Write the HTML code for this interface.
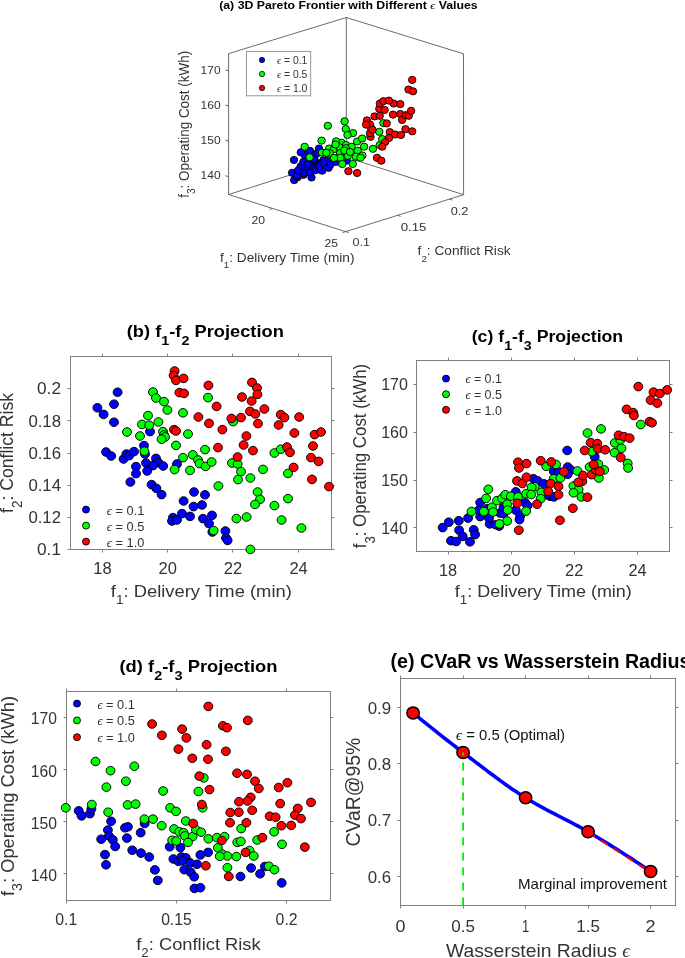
<!DOCTYPE html><html><head><meta charset="utf-8"><style>html,body{margin:0;padding:0;background:#fff;}svg{display:block;will-change:transform;}</style></head><body><svg width="685" height="958" viewBox="0 0 685 958" font-family="'Liberation Sans', sans-serif">
<rect width="685" height="958" fill="#fff"/>
<line x1="228.60" y1="53.60" x2="346.30" y2="17.50" stroke="#5a5a5a" stroke-width="0.9" />
<line x1="346.30" y1="17.50" x2="463.50" y2="53.80" stroke="#5a5a5a" stroke-width="0.9" />
<line x1="228.60" y1="53.60" x2="228.60" y2="194.50" stroke="#5a5a5a" stroke-width="0.9" />
<line x1="463.50" y1="53.80" x2="463.60" y2="194.70" stroke="#5a5a5a" stroke-width="0.9" />
<line x1="228.60" y1="194.50" x2="345.60" y2="231.60" stroke="#5a5a5a" stroke-width="0.9" />
<line x1="345.60" y1="231.60" x2="463.60" y2="194.70" stroke="#5a5a5a" stroke-width="0.9" />
<line x1="228.60" y1="194.50" x2="346.30" y2="157.30" stroke="#5a5a5a" stroke-width="0.9" />
<line x1="463.60" y1="194.70" x2="346.30" y2="157.30" stroke="#5a5a5a" stroke-width="0.9" />
<line x1="346.30" y1="17.50" x2="346.30" y2="157.30" stroke="#5a5a5a" stroke-width="0.9" />
<line x1="228.60" y1="176.70" x2="225.40" y2="175.70" stroke="#5a5a5a" stroke-width="0.9" />
<text x="220.60" y="179.40" font-size="11.0" text-anchor="end" textLength="20.0" lengthAdjust="spacingAndGlyphs" fill="#333333" >140</text>
<line x1="228.60" y1="141.10" x2="225.40" y2="140.10" stroke="#5a5a5a" stroke-width="0.9" />
<text x="220.60" y="143.80" font-size="11.0" text-anchor="end" textLength="20.0" lengthAdjust="spacingAndGlyphs" fill="#333333" >150</text>
<line x1="228.60" y1="106.00" x2="225.40" y2="105.00" stroke="#5a5a5a" stroke-width="0.9" />
<text x="220.60" y="108.70" font-size="11.0" text-anchor="end" textLength="20.0" lengthAdjust="spacingAndGlyphs" fill="#333333" >160</text>
<line x1="228.60" y1="70.90" x2="225.40" y2="69.90" stroke="#5a5a5a" stroke-width="0.9" />
<text x="220.60" y="73.60" font-size="11.0" text-anchor="end" textLength="20.0" lengthAdjust="spacingAndGlyphs" fill="#333333" >170</text>
<line x1="272.59" y1="208.45" x2="269.39" y2="209.45" stroke="#5a5a5a" stroke-width="0.9" />
<line x1="345.60" y1="231.60" x2="342.40" y2="232.60" stroke="#5a5a5a" stroke-width="0.9" />
<text x="258.30" y="223.90" font-size="11.0" text-anchor="middle" textLength="13.6" lengthAdjust="spacingAndGlyphs" fill="#333333" >20</text>
<text x="331.30" y="246.50" font-size="11.0" text-anchor="middle" textLength="13.6" lengthAdjust="spacingAndGlyphs" fill="#333333" >25</text>
<line x1="345.60" y1="231.60" x2="348.70" y2="232.60" stroke="#5a5a5a" stroke-width="0.9" />
<line x1="397.52" y1="215.36" x2="400.62" y2="216.36" stroke="#5a5a5a" stroke-width="0.9" />
<line x1="449.44" y1="199.13" x2="452.54" y2="200.13" stroke="#5a5a5a" stroke-width="0.9" />
<text x="361.20" y="246.20" font-size="11.0" text-anchor="middle" textLength="17.4" lengthAdjust="spacingAndGlyphs" fill="#333333" >0.1</text>
<text x="413.60" y="231.00" font-size="11.0" text-anchor="middle" textLength="25.8" lengthAdjust="spacingAndGlyphs" fill="#333333" >0.15</text>
<text x="459.60" y="215.40" font-size="11.0" text-anchor="middle" textLength="17.8" lengthAdjust="spacingAndGlyphs" fill="#333333" >0.2</text>
<text x="220.00" y="262.00" font-size="12.6" text-anchor="start" textLength="134.5" lengthAdjust="spacingAndGlyphs" fill="#333333" >f<tspan font-size="9" dy="6.2">1</tspan><tspan dy="-6.2">: Delivery Time (min)</tspan></text>
<text x="417.60" y="255.40" font-size="12.6" text-anchor="start" textLength="93.0" lengthAdjust="spacingAndGlyphs" fill="#333333" >f<tspan font-size="9" dy="6.2">2</tspan><tspan dy="-6.2">: Conflict Risk</tspan></text>
<text x="0" y="0" font-size="12.6" text-anchor="start" textLength="147.0" lengthAdjust="spacingAndGlyphs" transform="translate(188.60 197.80) scale(1.15 1) rotate(-90)" fill="#333333" >f<tspan font-size="9.5" dy="5.2">3</tspan><tspan dy="-5.2">: Operating Cost (kWh)</tspan></text>
<text x="219.20" y="9.20" font-size="10.2" text-anchor="start" font-weight="bold" textLength="258.5" lengthAdjust="spacingAndGlyphs" fill="#000" >(a) 3D Pareto Frontier with Different <tspan font-family="Liberation Serif" font-weight="normal" font-style="italic">&#x3f5;</tspan> Values</text>
<ellipse cx="294.0" cy="160.0" rx="3.73" ry="3.6" fill="#0000ff" stroke="#000" stroke-width="0.9"/>
<ellipse cx="292.1" cy="172.8" rx="3.73" ry="3.6" fill="#0000ff" stroke="#000" stroke-width="0.9"/>
<ellipse cx="294.2" cy="180.1" rx="3.73" ry="3.6" fill="#0000ff" stroke="#000" stroke-width="0.9"/>
<ellipse cx="297.7" cy="177.2" rx="3.73" ry="3.6" fill="#0000ff" stroke="#000" stroke-width="0.9"/>
<ellipse cx="303.5" cy="174.8" rx="3.73" ry="3.6" fill="#0000ff" stroke="#000" stroke-width="0.9"/>
<ellipse cx="311.5" cy="177.5" rx="3.73" ry="3.6" fill="#0000ff" stroke="#000" stroke-width="0.9"/>
<ellipse cx="300.6" cy="167.2" rx="3.73" ry="3.6" fill="#0000ff" stroke="#000" stroke-width="0.9"/>
<ellipse cx="306.5" cy="168.4" rx="3.73" ry="3.6" fill="#0000ff" stroke="#000" stroke-width="0.9"/>
<ellipse cx="313.5" cy="167.2" rx="3.73" ry="3.6" fill="#0000ff" stroke="#000" stroke-width="0.9"/>
<ellipse cx="316.4" cy="168.4" rx="3.73" ry="3.6" fill="#0000ff" stroke="#000" stroke-width="0.9"/>
<ellipse cx="322.2" cy="170.7" rx="3.73" ry="3.6" fill="#0000ff" stroke="#000" stroke-width="0.9"/>
<ellipse cx="328.6" cy="167.8" rx="3.73" ry="3.6" fill="#0000ff" stroke="#000" stroke-width="0.9"/>
<ellipse cx="302.4" cy="152.0" rx="3.73" ry="3.6" fill="#0000ff" stroke="#000" stroke-width="0.9"/>
<ellipse cx="310.0" cy="150.9" rx="3.73" ry="3.6" fill="#0000ff" stroke="#000" stroke-width="0.9"/>
<ellipse cx="304.7" cy="155.0" rx="3.73" ry="3.6" fill="#0000ff" stroke="#000" stroke-width="0.9"/>
<ellipse cx="315.2" cy="155.0" rx="3.73" ry="3.6" fill="#0000ff" stroke="#000" stroke-width="0.9"/>
<ellipse cx="307.0" cy="160.2" rx="3.73" ry="3.6" fill="#0000ff" stroke="#000" stroke-width="0.9"/>
<ellipse cx="315.2" cy="161.4" rx="3.73" ry="3.6" fill="#0000ff" stroke="#000" stroke-width="0.9"/>
<ellipse cx="319.9" cy="163.7" rx="3.73" ry="3.6" fill="#0000ff" stroke="#000" stroke-width="0.9"/>
<ellipse cx="323.4" cy="160.2" rx="3.73" ry="3.6" fill="#0000ff" stroke="#000" stroke-width="0.9"/>
<ellipse cx="326.9" cy="161.4" rx="3.73" ry="3.6" fill="#0000ff" stroke="#000" stroke-width="0.9"/>
<ellipse cx="319.0" cy="148.5" rx="3.73" ry="3.6" fill="#0000ff" stroke="#000" stroke-width="0.9"/>
<ellipse cx="335.7" cy="162.0" rx="3.73" ry="3.6" fill="#0000ff" stroke="#000" stroke-width="0.9"/>
<ellipse cx="346.6" cy="160.7" rx="3.73" ry="3.6" fill="#0000ff" stroke="#000" stroke-width="0.9"/>
<ellipse cx="300.8" cy="152.3" rx="3.73" ry="3.6" fill="#0000ff" stroke="#000" stroke-width="0.9"/>
<ellipse cx="313.9" cy="159.3" rx="3.73" ry="3.6" fill="#0000ff" stroke="#000" stroke-width="0.9"/>
<ellipse cx="308.6" cy="162.8" rx="3.73" ry="3.6" fill="#0000ff" stroke="#000" stroke-width="0.9"/>
<ellipse cx="300.8" cy="166.3" rx="3.73" ry="3.6" fill="#0000ff" stroke="#000" stroke-width="0.9"/>
<ellipse cx="315.6" cy="170.2" rx="3.73" ry="3.6" fill="#0000ff" stroke="#000" stroke-width="0.9"/>
<ellipse cx="319.6" cy="166.3" rx="3.73" ry="3.6" fill="#0000ff" stroke="#000" stroke-width="0.9"/>
<ellipse cx="323.5" cy="162.8" rx="3.73" ry="3.6" fill="#0000ff" stroke="#000" stroke-width="0.9"/>
<ellipse cx="303.4" cy="161.9" rx="3.73" ry="3.6" fill="#0000ff" stroke="#000" stroke-width="0.9"/>
<ellipse cx="317.4" cy="153.1" rx="3.73" ry="3.6" fill="#0000ff" stroke="#000" stroke-width="0.9"/>
<ellipse cx="303.8" cy="173.3" rx="3.73" ry="3.6" fill="#0000ff" stroke="#000" stroke-width="0.9"/>
<ellipse cx="297.3" cy="175.5" rx="3.73" ry="3.6" fill="#0000ff" stroke="#000" stroke-width="0.9"/>
<ellipse cx="307.8" cy="164.5" rx="3.73" ry="3.6" fill="#0000ff" stroke="#000" stroke-width="0.9"/>
<ellipse cx="298.0" cy="170.5" rx="3.73" ry="3.6" fill="#0000ff" stroke="#000" stroke-width="0.9"/>
<ellipse cx="310.0" cy="172.5" rx="3.73" ry="3.6" fill="#0000ff" stroke="#000" stroke-width="0.9"/>
<ellipse cx="330.5" cy="164.5" rx="3.73" ry="3.6" fill="#0000ff" stroke="#000" stroke-width="0.9"/>
<ellipse cx="304.7" cy="146.8" rx="3.73" ry="3.6" fill="#00ff00" stroke="#000" stroke-width="0.9"/>
<ellipse cx="309.6" cy="157.3" rx="3.73" ry="3.6" fill="#00ff00" stroke="#000" stroke-width="0.9"/>
<ellipse cx="322.0" cy="152.6" rx="3.73" ry="3.6" fill="#00ff00" stroke="#000" stroke-width="0.9"/>
<ellipse cx="321.6" cy="140.6" rx="3.73" ry="3.6" fill="#00ff00" stroke="#000" stroke-width="0.9"/>
<ellipse cx="327.8" cy="125.8" rx="3.73" ry="3.6" fill="#00ff00" stroke="#000" stroke-width="0.9"/>
<ellipse cx="329.0" cy="154.4" rx="3.73" ry="3.6" fill="#00ff00" stroke="#000" stroke-width="0.9"/>
<ellipse cx="329.2" cy="148.5" rx="3.73" ry="3.6" fill="#00ff00" stroke="#000" stroke-width="0.9"/>
<ellipse cx="333.9" cy="149.1" rx="3.73" ry="3.6" fill="#00ff00" stroke="#000" stroke-width="0.9"/>
<ellipse cx="336.2" cy="142.7" rx="3.73" ry="3.6" fill="#00ff00" stroke="#000" stroke-width="0.9"/>
<ellipse cx="341.5" cy="142.7" rx="3.73" ry="3.6" fill="#00ff00" stroke="#000" stroke-width="0.9"/>
<ellipse cx="339.7" cy="147.4" rx="3.73" ry="3.6" fill="#00ff00" stroke="#000" stroke-width="0.9"/>
<ellipse cx="339.7" cy="155.5" rx="3.73" ry="3.6" fill="#00ff00" stroke="#000" stroke-width="0.9"/>
<ellipse cx="342.1" cy="156.7" rx="3.73" ry="3.6" fill="#00ff00" stroke="#000" stroke-width="0.9"/>
<ellipse cx="342.1" cy="163.7" rx="3.73" ry="3.6" fill="#00ff00" stroke="#000" stroke-width="0.9"/>
<ellipse cx="344.6" cy="121.3" rx="3.73" ry="3.6" fill="#00ff00" stroke="#000" stroke-width="0.9"/>
<ellipse cx="345.8" cy="129.0" rx="3.73" ry="3.6" fill="#00ff00" stroke="#000" stroke-width="0.9"/>
<ellipse cx="353.0" cy="133.1" rx="3.73" ry="3.6" fill="#00ff00" stroke="#000" stroke-width="0.9"/>
<ellipse cx="347.5" cy="135.0" rx="3.73" ry="3.6" fill="#00ff00" stroke="#000" stroke-width="0.9"/>
<ellipse cx="346.0" cy="145.0" rx="3.73" ry="3.6" fill="#00ff00" stroke="#000" stroke-width="0.9"/>
<ellipse cx="340.2" cy="153.1" rx="3.73" ry="3.6" fill="#00ff00" stroke="#000" stroke-width="0.9"/>
<ellipse cx="347.8" cy="155.8" rx="3.73" ry="3.6" fill="#00ff00" stroke="#000" stroke-width="0.9"/>
<ellipse cx="351.6" cy="146.7" rx="3.73" ry="3.6" fill="#00ff00" stroke="#000" stroke-width="0.9"/>
<ellipse cx="357.1" cy="141.5" rx="3.73" ry="3.6" fill="#00ff00" stroke="#000" stroke-width="0.9"/>
<ellipse cx="362.1" cy="138.5" rx="3.73" ry="3.6" fill="#00ff00" stroke="#000" stroke-width="0.9"/>
<ellipse cx="364.1" cy="146.7" rx="3.73" ry="3.6" fill="#00ff00" stroke="#000" stroke-width="0.9"/>
<ellipse cx="357.7" cy="150.8" rx="3.73" ry="3.6" fill="#00ff00" stroke="#000" stroke-width="0.9"/>
<ellipse cx="356.0" cy="156.6" rx="3.73" ry="3.6" fill="#00ff00" stroke="#000" stroke-width="0.9"/>
<ellipse cx="362.4" cy="155.5" rx="3.73" ry="3.6" fill="#00ff00" stroke="#000" stroke-width="0.9"/>
<ellipse cx="340.2" cy="157.8" rx="3.73" ry="3.6" fill="#00ff00" stroke="#000" stroke-width="0.9"/>
<ellipse cx="342.3" cy="164.0" rx="3.73" ry="3.6" fill="#00ff00" stroke="#000" stroke-width="0.9"/>
<ellipse cx="352.8" cy="164.0" rx="3.73" ry="3.6" fill="#00ff00" stroke="#000" stroke-width="0.9"/>
<ellipse cx="372.9" cy="148.8" rx="3.73" ry="3.6" fill="#00ff00" stroke="#000" stroke-width="0.9"/>
<ellipse cx="379.7" cy="145.0" rx="3.73" ry="3.6" fill="#00ff00" stroke="#000" stroke-width="0.9"/>
<ellipse cx="382.2" cy="139.1" rx="3.73" ry="3.6" fill="#00ff00" stroke="#000" stroke-width="0.9"/>
<ellipse cx="379.3" cy="131.8" rx="3.73" ry="3.6" fill="#00ff00" stroke="#000" stroke-width="0.9"/>
<ellipse cx="383.4" cy="123.1" rx="3.73" ry="3.6" fill="#00ff00" stroke="#000" stroke-width="0.9"/>
<ellipse cx="329.7" cy="153.1" rx="3.73" ry="3.6" fill="#00ff00" stroke="#000" stroke-width="0.9"/>
<ellipse cx="336.2" cy="141.3" rx="3.73" ry="3.6" fill="#00ff00" stroke="#000" stroke-width="0.9"/>
<ellipse cx="345.7" cy="148.2" rx="3.73" ry="3.6" fill="#00ff00" stroke="#000" stroke-width="0.9"/>
<ellipse cx="344.4" cy="150.5" rx="3.73" ry="3.6" fill="#00ff00" stroke="#000" stroke-width="0.9"/>
<ellipse cx="326.3" cy="152.8" rx="3.73" ry="3.6" fill="#00ff00" stroke="#000" stroke-width="0.9"/>
<ellipse cx="360.5" cy="157.7" rx="3.73" ry="3.6" fill="#00ff00" stroke="#000" stroke-width="0.9"/>
<ellipse cx="335.5" cy="144.5" rx="3.73" ry="3.6" fill="#00ff00" stroke="#000" stroke-width="0.9"/>
<ellipse cx="350.0" cy="152.0" rx="3.73" ry="3.6" fill="#00ff00" stroke="#000" stroke-width="0.9"/>
<ellipse cx="334.0" cy="158.0" rx="3.73" ry="3.6" fill="#00ff00" stroke="#000" stroke-width="0.9"/>
<ellipse cx="348.4" cy="171.2" rx="3.73" ry="3.6" fill="#ff0000" stroke="#000" stroke-width="0.9"/>
<ellipse cx="357.1" cy="173.0" rx="3.73" ry="3.6" fill="#ff0000" stroke="#000" stroke-width="0.9"/>
<ellipse cx="377.0" cy="157.8" rx="3.73" ry="3.6" fill="#ff0000" stroke="#000" stroke-width="0.9"/>
<ellipse cx="381.3" cy="160.7" rx="3.73" ry="3.6" fill="#ff0000" stroke="#000" stroke-width="0.9"/>
<ellipse cx="370.5" cy="136.8" rx="3.73" ry="3.6" fill="#ff0000" stroke="#000" stroke-width="0.9"/>
<ellipse cx="370.0" cy="133.3" rx="3.73" ry="3.6" fill="#ff0000" stroke="#000" stroke-width="0.9"/>
<ellipse cx="371.1" cy="128.0" rx="3.73" ry="3.6" fill="#ff0000" stroke="#000" stroke-width="0.9"/>
<ellipse cx="367.0" cy="120.4" rx="3.73" ry="3.6" fill="#ff0000" stroke="#000" stroke-width="0.9"/>
<ellipse cx="370.0" cy="124.5" rx="3.73" ry="3.6" fill="#ff0000" stroke="#000" stroke-width="0.9"/>
<ellipse cx="374.6" cy="116.4" rx="3.73" ry="3.6" fill="#ff0000" stroke="#000" stroke-width="0.9"/>
<ellipse cx="379.7" cy="115.8" rx="3.73" ry="3.6" fill="#ff0000" stroke="#000" stroke-width="0.9"/>
<ellipse cx="379.3" cy="108.8" rx="3.73" ry="3.6" fill="#ff0000" stroke="#000" stroke-width="0.9"/>
<ellipse cx="384.6" cy="109.9" rx="3.73" ry="3.6" fill="#ff0000" stroke="#000" stroke-width="0.9"/>
<ellipse cx="379.9" cy="103.5" rx="3.73" ry="3.6" fill="#ff0000" stroke="#000" stroke-width="0.9"/>
<ellipse cx="383.4" cy="101.2" rx="3.73" ry="3.6" fill="#ff0000" stroke="#000" stroke-width="0.9"/>
<ellipse cx="393.7" cy="103.5" rx="3.73" ry="3.6" fill="#ff0000" stroke="#000" stroke-width="0.9"/>
<ellipse cx="400.3" cy="104.1" rx="3.73" ry="3.6" fill="#ff0000" stroke="#000" stroke-width="0.9"/>
<ellipse cx="393.0" cy="114.6" rx="3.73" ry="3.6" fill="#ff0000" stroke="#000" stroke-width="0.9"/>
<ellipse cx="400.3" cy="114.0" rx="3.73" ry="3.6" fill="#ff0000" stroke="#000" stroke-width="0.9"/>
<ellipse cx="402.1" cy="119.9" rx="3.73" ry="3.6" fill="#ff0000" stroke="#000" stroke-width="0.9"/>
<ellipse cx="386.7" cy="123.4" rx="3.73" ry="3.6" fill="#ff0000" stroke="#000" stroke-width="0.9"/>
<ellipse cx="389.8" cy="132.1" rx="3.73" ry="3.6" fill="#ff0000" stroke="#000" stroke-width="0.9"/>
<ellipse cx="395.1" cy="134.5" rx="3.73" ry="3.6" fill="#ff0000" stroke="#000" stroke-width="0.9"/>
<ellipse cx="400.9" cy="135.0" rx="3.73" ry="3.6" fill="#ff0000" stroke="#000" stroke-width="0.9"/>
<ellipse cx="389.0" cy="138.0" rx="3.73" ry="3.6" fill="#ff0000" stroke="#000" stroke-width="0.9"/>
<ellipse cx="385.1" cy="142.0" rx="3.73" ry="3.6" fill="#ff0000" stroke="#000" stroke-width="0.9"/>
<ellipse cx="382.2" cy="146.7" rx="3.73" ry="3.6" fill="#ff0000" stroke="#000" stroke-width="0.9"/>
<ellipse cx="412.2" cy="79.9" rx="3.73" ry="3.6" fill="#ff0000" stroke="#000" stroke-width="0.9"/>
<ellipse cx="408.5" cy="89.5" rx="3.73" ry="3.6" fill="#ff0000" stroke="#000" stroke-width="0.9"/>
<ellipse cx="413.0" cy="91.3" rx="3.73" ry="3.6" fill="#ff0000" stroke="#000" stroke-width="0.9"/>
<ellipse cx="388.9" cy="100.6" rx="3.73" ry="3.6" fill="#ff0000" stroke="#000" stroke-width="0.9"/>
<ellipse cx="366.1" cy="124.6" rx="3.73" ry="3.6" fill="#ff0000" stroke="#000" stroke-width="0.9"/>
<ellipse cx="405.8" cy="115.2" rx="3.73" ry="3.6" fill="#ff0000" stroke="#000" stroke-width="0.9"/>
<ellipse cx="408.7" cy="115.8" rx="3.73" ry="3.6" fill="#ff0000" stroke="#000" stroke-width="0.9"/>
<ellipse cx="411.1" cy="110.8" rx="3.73" ry="3.6" fill="#ff0000" stroke="#000" stroke-width="0.9"/>
<ellipse cx="405.5" cy="129.2" rx="3.73" ry="3.6" fill="#ff0000" stroke="#000" stroke-width="0.9"/>
<ellipse cx="412.2" cy="131.3" rx="3.73" ry="3.6" fill="#ff0000" stroke="#000" stroke-width="0.9"/>
<ellipse cx="372.5" cy="129.8" rx="3.73" ry="3.6" fill="#ff0000" stroke="#000" stroke-width="0.9"/>
<rect x="246.4" y="51.4" width="64.3" height="44.4" fill="#fff" stroke="#8c8c8c" stroke-width="0.9"/>
<circle cx="262.0" cy="60.0" r="2.7" fill="#0000ff" stroke="#000" stroke-width="0.7"/>
<text x="277.00" y="64.20" font-size="10.2" text-anchor="start" textLength="30.4" lengthAdjust="spacingAndGlyphs" fill="#333333" ><tspan font-family="Liberation Serif" font-style="italic">&#x3f5;</tspan> = 0.1</text>
<circle cx="262.0" cy="74.0" r="2.7" fill="#00ff00" stroke="#000" stroke-width="0.7"/>
<text x="277.00" y="78.20" font-size="10.2" text-anchor="start" textLength="30.4" lengthAdjust="spacingAndGlyphs" fill="#333333" ><tspan font-family="Liberation Serif" font-style="italic">&#x3f5;</tspan> = 0.5</text>
<circle cx="262.0" cy="88.0" r="2.7" fill="#ff0000" stroke="#000" stroke-width="0.7"/>
<text x="277.00" y="92.20" font-size="10.2" text-anchor="start" textLength="30.4" lengthAdjust="spacingAndGlyphs" fill="#333333" ><tspan font-family="Liberation Serif" font-style="italic">&#x3f5;</tspan> = 1.0</text>
<rect x="70.50" y="356.50" width="261.00" height="193.00" fill="none" stroke="#808080" stroke-width="1"/>
<line x1="102.50" y1="550.00" x2="102.50" y2="552.50" stroke="#808080" stroke-width="1" />
<line x1="102.50" y1="356.00" x2="102.50" y2="353.50" stroke="#808080" stroke-width="1" />
<line x1="167.50" y1="550.00" x2="167.50" y2="552.50" stroke="#808080" stroke-width="1" />
<line x1="167.50" y1="356.00" x2="167.50" y2="353.50" stroke="#808080" stroke-width="1" />
<line x1="232.50" y1="550.00" x2="232.50" y2="552.50" stroke="#808080" stroke-width="1" />
<line x1="232.50" y1="356.00" x2="232.50" y2="353.50" stroke="#808080" stroke-width="1" />
<line x1="298.50" y1="550.00" x2="298.50" y2="552.50" stroke="#808080" stroke-width="1" />
<line x1="298.50" y1="356.00" x2="298.50" y2="353.50" stroke="#808080" stroke-width="1" />
<line x1="70.00" y1="549.50" x2="67.50" y2="549.50" stroke="#808080" stroke-width="1" />
<line x1="332.00" y1="549.50" x2="334.50" y2="549.50" stroke="#808080" stroke-width="1" />
<line x1="70.00" y1="517.50" x2="67.50" y2="517.50" stroke="#808080" stroke-width="1" />
<line x1="332.00" y1="517.50" x2="334.50" y2="517.50" stroke="#808080" stroke-width="1" />
<line x1="70.00" y1="485.50" x2="67.50" y2="485.50" stroke="#808080" stroke-width="1" />
<line x1="332.00" y1="485.50" x2="334.50" y2="485.50" stroke="#808080" stroke-width="1" />
<line x1="70.00" y1="453.50" x2="67.50" y2="453.50" stroke="#808080" stroke-width="1" />
<line x1="332.00" y1="453.50" x2="334.50" y2="453.50" stroke="#808080" stroke-width="1" />
<line x1="70.00" y1="420.50" x2="67.50" y2="420.50" stroke="#808080" stroke-width="1" />
<line x1="332.00" y1="420.50" x2="334.50" y2="420.50" stroke="#808080" stroke-width="1" />
<line x1="70.00" y1="388.50" x2="67.50" y2="388.50" stroke="#808080" stroke-width="1" />
<line x1="332.00" y1="388.50" x2="334.50" y2="388.50" stroke="#808080" stroke-width="1" />
<ellipse cx="117.6" cy="392.2" rx="4.45" ry="4.3" fill="#0000ff" stroke="#000" stroke-width="0.95"/>
<ellipse cx="114.0" cy="404.2" rx="4.45" ry="4.3" fill="#0000ff" stroke="#000" stroke-width="0.95"/>
<ellipse cx="97.4" cy="407.8" rx="4.45" ry="4.3" fill="#0000ff" stroke="#000" stroke-width="0.95"/>
<ellipse cx="103.6" cy="414.4" rx="4.45" ry="4.3" fill="#0000ff" stroke="#000" stroke-width="0.95"/>
<ellipse cx="114.0" cy="422.2" rx="4.45" ry="4.3" fill="#0000ff" stroke="#000" stroke-width="0.95"/>
<ellipse cx="150.0" cy="431.6" rx="4.45" ry="4.3" fill="#0000ff" stroke="#000" stroke-width="0.95"/>
<ellipse cx="144.0" cy="445.6" rx="4.45" ry="4.3" fill="#0000ff" stroke="#000" stroke-width="0.95"/>
<ellipse cx="106.0" cy="452.0" rx="4.45" ry="4.3" fill="#0000ff" stroke="#000" stroke-width="0.95"/>
<ellipse cx="111.2" cy="456.0" rx="4.45" ry="4.3" fill="#0000ff" stroke="#000" stroke-width="0.95"/>
<ellipse cx="123.6" cy="459.0" rx="4.45" ry="4.3" fill="#0000ff" stroke="#000" stroke-width="0.95"/>
<ellipse cx="126.4" cy="454.0" rx="4.45" ry="4.3" fill="#0000ff" stroke="#000" stroke-width="0.95"/>
<ellipse cx="129.2" cy="455.6" rx="4.45" ry="4.3" fill="#0000ff" stroke="#000" stroke-width="0.95"/>
<ellipse cx="134.0" cy="451.6" rx="4.45" ry="4.3" fill="#0000ff" stroke="#000" stroke-width="0.95"/>
<ellipse cx="145.0" cy="454.0" rx="4.45" ry="4.3" fill="#0000ff" stroke="#000" stroke-width="0.95"/>
<ellipse cx="146.0" cy="463.0" rx="4.45" ry="4.3" fill="#0000ff" stroke="#000" stroke-width="0.95"/>
<ellipse cx="156.0" cy="458.4" rx="4.45" ry="4.3" fill="#0000ff" stroke="#000" stroke-width="0.95"/>
<ellipse cx="158.4" cy="462.6" rx="4.45" ry="4.3" fill="#0000ff" stroke="#000" stroke-width="0.95"/>
<ellipse cx="153.0" cy="465.6" rx="4.45" ry="4.3" fill="#0000ff" stroke="#000" stroke-width="0.95"/>
<ellipse cx="163.2" cy="466.0" rx="4.45" ry="4.3" fill="#0000ff" stroke="#000" stroke-width="0.95"/>
<ellipse cx="136.0" cy="466.6" rx="4.45" ry="4.3" fill="#0000ff" stroke="#000" stroke-width="0.95"/>
<ellipse cx="136.0" cy="473.6" rx="4.45" ry="4.3" fill="#0000ff" stroke="#000" stroke-width="0.95"/>
<ellipse cx="147.2" cy="471.0" rx="4.45" ry="4.3" fill="#0000ff" stroke="#000" stroke-width="0.95"/>
<ellipse cx="130.4" cy="482.0" rx="4.45" ry="4.3" fill="#0000ff" stroke="#000" stroke-width="0.95"/>
<ellipse cx="151.6" cy="484.6" rx="4.45" ry="4.3" fill="#0000ff" stroke="#000" stroke-width="0.95"/>
<ellipse cx="156.4" cy="488.4" rx="4.45" ry="4.3" fill="#0000ff" stroke="#000" stroke-width="0.95"/>
<ellipse cx="177.0" cy="464.0" rx="4.45" ry="4.3" fill="#0000ff" stroke="#000" stroke-width="0.95"/>
<ellipse cx="194.0" cy="492.0" rx="4.45" ry="4.3" fill="#0000ff" stroke="#000" stroke-width="0.95"/>
<ellipse cx="161.6" cy="494.6" rx="4.45" ry="4.3" fill="#0000ff" stroke="#000" stroke-width="0.95"/>
<ellipse cx="183.6" cy="501.0" rx="4.45" ry="4.3" fill="#0000ff" stroke="#000" stroke-width="0.95"/>
<ellipse cx="193.6" cy="506.6" rx="4.45" ry="4.3" fill="#0000ff" stroke="#000" stroke-width="0.95"/>
<ellipse cx="182.0" cy="513.6" rx="4.45" ry="4.3" fill="#0000ff" stroke="#000" stroke-width="0.95"/>
<ellipse cx="190.0" cy="516.4" rx="4.45" ry="4.3" fill="#0000ff" stroke="#000" stroke-width="0.95"/>
<ellipse cx="173.0" cy="517.6" rx="4.45" ry="4.3" fill="#0000ff" stroke="#000" stroke-width="0.95"/>
<ellipse cx="172.0" cy="521.0" rx="4.45" ry="4.3" fill="#0000ff" stroke="#000" stroke-width="0.95"/>
<ellipse cx="177.0" cy="520.0" rx="4.45" ry="4.3" fill="#0000ff" stroke="#000" stroke-width="0.95"/>
<ellipse cx="205.0" cy="494.8" rx="4.45" ry="4.3" fill="#0000ff" stroke="#000" stroke-width="0.95"/>
<ellipse cx="202.0" cy="505.0" rx="4.45" ry="4.3" fill="#0000ff" stroke="#000" stroke-width="0.95"/>
<ellipse cx="203.0" cy="518.6" rx="4.45" ry="4.3" fill="#0000ff" stroke="#000" stroke-width="0.95"/>
<ellipse cx="212.0" cy="515.4" rx="4.45" ry="4.3" fill="#0000ff" stroke="#000" stroke-width="0.95"/>
<ellipse cx="209.0" cy="523.6" rx="4.45" ry="4.3" fill="#0000ff" stroke="#000" stroke-width="0.95"/>
<ellipse cx="212.4" cy="532.0" rx="4.45" ry="4.3" fill="#0000ff" stroke="#000" stroke-width="0.95"/>
<ellipse cx="225.4" cy="531.0" rx="4.45" ry="4.3" fill="#0000ff" stroke="#000" stroke-width="0.95"/>
<ellipse cx="226.0" cy="538.0" rx="4.45" ry="4.3" fill="#0000ff" stroke="#000" stroke-width="0.95"/>
<ellipse cx="227.6" cy="540.4" rx="4.45" ry="4.3" fill="#0000ff" stroke="#000" stroke-width="0.95"/>
<ellipse cx="153.0" cy="392.0" rx="4.45" ry="4.3" fill="#00ff00" stroke="#000" stroke-width="0.95"/>
<ellipse cx="156.0" cy="398.0" rx="4.45" ry="4.3" fill="#00ff00" stroke="#000" stroke-width="0.95"/>
<ellipse cx="164.0" cy="401.6" rx="4.45" ry="4.3" fill="#00ff00" stroke="#000" stroke-width="0.95"/>
<ellipse cx="167.4" cy="410.0" rx="4.45" ry="4.3" fill="#00ff00" stroke="#000" stroke-width="0.95"/>
<ellipse cx="183.0" cy="412.8" rx="4.45" ry="4.3" fill="#00ff00" stroke="#000" stroke-width="0.95"/>
<ellipse cx="148.0" cy="415.6" rx="4.45" ry="4.3" fill="#00ff00" stroke="#000" stroke-width="0.95"/>
<ellipse cx="158.4" cy="422.0" rx="4.45" ry="4.3" fill="#00ff00" stroke="#000" stroke-width="0.95"/>
<ellipse cx="142.0" cy="424.4" rx="4.45" ry="4.3" fill="#00ff00" stroke="#000" stroke-width="0.95"/>
<ellipse cx="149.2" cy="425.2" rx="4.45" ry="4.3" fill="#00ff00" stroke="#000" stroke-width="0.95"/>
<ellipse cx="127.0" cy="432.0" rx="4.45" ry="4.3" fill="#00ff00" stroke="#000" stroke-width="0.95"/>
<ellipse cx="140.0" cy="436.0" rx="4.45" ry="4.3" fill="#00ff00" stroke="#000" stroke-width="0.95"/>
<ellipse cx="163.0" cy="431.6" rx="4.45" ry="4.3" fill="#00ff00" stroke="#000" stroke-width="0.95"/>
<ellipse cx="164.0" cy="435.0" rx="4.45" ry="4.3" fill="#00ff00" stroke="#000" stroke-width="0.95"/>
<ellipse cx="165.0" cy="437.0" rx="4.45" ry="4.3" fill="#00ff00" stroke="#000" stroke-width="0.95"/>
<ellipse cx="161.6" cy="439.2" rx="4.45" ry="4.3" fill="#00ff00" stroke="#000" stroke-width="0.95"/>
<ellipse cx="188.0" cy="434.0" rx="4.45" ry="4.3" fill="#00ff00" stroke="#000" stroke-width="0.95"/>
<ellipse cx="176.0" cy="445.4" rx="4.45" ry="4.3" fill="#00ff00" stroke="#000" stroke-width="0.95"/>
<ellipse cx="144.4" cy="451.2" rx="4.45" ry="4.3" fill="#00ff00" stroke="#000" stroke-width="0.95"/>
<ellipse cx="183.0" cy="457.6" rx="4.45" ry="4.3" fill="#00ff00" stroke="#000" stroke-width="0.95"/>
<ellipse cx="192.8" cy="454.8" rx="4.45" ry="4.3" fill="#00ff00" stroke="#000" stroke-width="0.95"/>
<ellipse cx="198.0" cy="460.0" rx="4.45" ry="4.3" fill="#00ff00" stroke="#000" stroke-width="0.95"/>
<ellipse cx="199.6" cy="463.6" rx="4.45" ry="4.3" fill="#00ff00" stroke="#000" stroke-width="0.95"/>
<ellipse cx="174.6" cy="469.6" rx="4.45" ry="4.3" fill="#00ff00" stroke="#000" stroke-width="0.95"/>
<ellipse cx="190.0" cy="470.4" rx="4.45" ry="4.3" fill="#00ff00" stroke="#000" stroke-width="0.95"/>
<ellipse cx="208.0" cy="397.6" rx="4.45" ry="4.3" fill="#00ff00" stroke="#000" stroke-width="0.95"/>
<ellipse cx="233.0" cy="421.6" rx="4.45" ry="4.3" fill="#00ff00" stroke="#000" stroke-width="0.95"/>
<ellipse cx="205.0" cy="449.6" rx="4.45" ry="4.3" fill="#00ff00" stroke="#000" stroke-width="0.95"/>
<ellipse cx="205.6" cy="466.4" rx="4.45" ry="4.3" fill="#00ff00" stroke="#000" stroke-width="0.95"/>
<ellipse cx="211.6" cy="462.0" rx="4.45" ry="4.3" fill="#00ff00" stroke="#000" stroke-width="0.95"/>
<ellipse cx="232.0" cy="463.0" rx="4.45" ry="4.3" fill="#00ff00" stroke="#000" stroke-width="0.95"/>
<ellipse cx="237.6" cy="464.0" rx="4.45" ry="4.3" fill="#00ff00" stroke="#000" stroke-width="0.95"/>
<ellipse cx="241.0" cy="471.6" rx="4.45" ry="4.3" fill="#00ff00" stroke="#000" stroke-width="0.95"/>
<ellipse cx="238.0" cy="479.6" rx="4.45" ry="4.3" fill="#00ff00" stroke="#000" stroke-width="0.95"/>
<ellipse cx="250.4" cy="478.0" rx="4.45" ry="4.3" fill="#00ff00" stroke="#000" stroke-width="0.95"/>
<ellipse cx="263.0" cy="469.4" rx="4.45" ry="4.3" fill="#00ff00" stroke="#000" stroke-width="0.95"/>
<ellipse cx="274.4" cy="453.0" rx="4.45" ry="4.3" fill="#00ff00" stroke="#000" stroke-width="0.95"/>
<ellipse cx="280.8" cy="449.2" rx="4.45" ry="4.3" fill="#00ff00" stroke="#000" stroke-width="0.95"/>
<ellipse cx="288.0" cy="473.4" rx="4.45" ry="4.3" fill="#00ff00" stroke="#000" stroke-width="0.95"/>
<ellipse cx="218.4" cy="486.0" rx="4.45" ry="4.3" fill="#00ff00" stroke="#000" stroke-width="0.95"/>
<ellipse cx="257.6" cy="492.0" rx="4.45" ry="4.3" fill="#00ff00" stroke="#000" stroke-width="0.95"/>
<ellipse cx="260.0" cy="499.4" rx="4.45" ry="4.3" fill="#00ff00" stroke="#000" stroke-width="0.95"/>
<ellipse cx="255.0" cy="504.4" rx="4.45" ry="4.3" fill="#00ff00" stroke="#000" stroke-width="0.95"/>
<ellipse cx="288.0" cy="498.6" rx="4.45" ry="4.3" fill="#00ff00" stroke="#000" stroke-width="0.95"/>
<ellipse cx="274.4" cy="505.6" rx="4.45" ry="4.3" fill="#00ff00" stroke="#000" stroke-width="0.95"/>
<ellipse cx="236.4" cy="518.6" rx="4.45" ry="4.3" fill="#00ff00" stroke="#000" stroke-width="0.95"/>
<ellipse cx="246.6" cy="517.0" rx="4.45" ry="4.3" fill="#00ff00" stroke="#000" stroke-width="0.95"/>
<ellipse cx="281.6" cy="520.0" rx="4.45" ry="4.3" fill="#00ff00" stroke="#000" stroke-width="0.95"/>
<ellipse cx="301.4" cy="528.0" rx="4.45" ry="4.3" fill="#00ff00" stroke="#000" stroke-width="0.95"/>
<ellipse cx="213.6" cy="530.6" rx="4.45" ry="4.3" fill="#00ff00" stroke="#000" stroke-width="0.95"/>
<ellipse cx="250.4" cy="549.4" rx="4.45" ry="4.3" fill="#00ff00" stroke="#000" stroke-width="0.95"/>
<ellipse cx="174.6" cy="371.0" rx="4.45" ry="4.3" fill="#ff0000" stroke="#000" stroke-width="0.95"/>
<ellipse cx="173.6" cy="375.6" rx="4.45" ry="4.3" fill="#ff0000" stroke="#000" stroke-width="0.95"/>
<ellipse cx="176.0" cy="380.4" rx="4.45" ry="4.3" fill="#ff0000" stroke="#000" stroke-width="0.95"/>
<ellipse cx="183.6" cy="378.4" rx="4.45" ry="4.3" fill="#ff0000" stroke="#000" stroke-width="0.95"/>
<ellipse cx="179.4" cy="392.6" rx="4.45" ry="4.3" fill="#ff0000" stroke="#000" stroke-width="0.95"/>
<ellipse cx="184.0" cy="393.4" rx="4.45" ry="4.3" fill="#ff0000" stroke="#000" stroke-width="0.95"/>
<ellipse cx="198.4" cy="417.0" rx="4.45" ry="4.3" fill="#ff0000" stroke="#000" stroke-width="0.95"/>
<ellipse cx="174.0" cy="429.6" rx="4.45" ry="4.3" fill="#ff0000" stroke="#000" stroke-width="0.95"/>
<ellipse cx="176.0" cy="431.0" rx="4.45" ry="4.3" fill="#ff0000" stroke="#000" stroke-width="0.95"/>
<ellipse cx="208.4" cy="385.4" rx="4.45" ry="4.3" fill="#ff0000" stroke="#000" stroke-width="0.95"/>
<ellipse cx="216.6" cy="406.4" rx="4.45" ry="4.3" fill="#ff0000" stroke="#000" stroke-width="0.95"/>
<ellipse cx="209.0" cy="423.4" rx="4.45" ry="4.3" fill="#ff0000" stroke="#000" stroke-width="0.95"/>
<ellipse cx="222.4" cy="429.6" rx="4.45" ry="4.3" fill="#ff0000" stroke="#000" stroke-width="0.95"/>
<ellipse cx="231.4" cy="418.4" rx="4.45" ry="4.3" fill="#ff0000" stroke="#000" stroke-width="0.95"/>
<ellipse cx="241.0" cy="417.6" rx="4.45" ry="4.3" fill="#ff0000" stroke="#000" stroke-width="0.95"/>
<ellipse cx="252.0" cy="382.4" rx="4.45" ry="4.3" fill="#ff0000" stroke="#000" stroke-width="0.95"/>
<ellipse cx="257.0" cy="388.0" rx="4.45" ry="4.3" fill="#ff0000" stroke="#000" stroke-width="0.95"/>
<ellipse cx="257.4" cy="394.4" rx="4.45" ry="4.3" fill="#ff0000" stroke="#000" stroke-width="0.95"/>
<ellipse cx="242.0" cy="397.0" rx="4.45" ry="4.3" fill="#ff0000" stroke="#000" stroke-width="0.95"/>
<ellipse cx="251.6" cy="401.0" rx="4.45" ry="4.3" fill="#ff0000" stroke="#000" stroke-width="0.95"/>
<ellipse cx="250.0" cy="411.4" rx="4.45" ry="4.3" fill="#ff0000" stroke="#000" stroke-width="0.95"/>
<ellipse cx="255.4" cy="414.0" rx="4.45" ry="4.3" fill="#ff0000" stroke="#000" stroke-width="0.95"/>
<ellipse cx="264.4" cy="409.0" rx="4.45" ry="4.3" fill="#ff0000" stroke="#000" stroke-width="0.95"/>
<ellipse cx="258.0" cy="423.6" rx="4.45" ry="4.3" fill="#ff0000" stroke="#000" stroke-width="0.95"/>
<ellipse cx="246.4" cy="436.0" rx="4.45" ry="4.3" fill="#ff0000" stroke="#000" stroke-width="0.95"/>
<ellipse cx="243.6" cy="445.0" rx="4.45" ry="4.3" fill="#ff0000" stroke="#000" stroke-width="0.95"/>
<ellipse cx="253.0" cy="450.6" rx="4.45" ry="4.3" fill="#ff0000" stroke="#000" stroke-width="0.95"/>
<ellipse cx="218.0" cy="447.6" rx="4.45" ry="4.3" fill="#ff0000" stroke="#000" stroke-width="0.95"/>
<ellipse cx="237.6" cy="457.0" rx="4.45" ry="4.3" fill="#ff0000" stroke="#000" stroke-width="0.95"/>
<ellipse cx="280.8" cy="414.6" rx="4.45" ry="4.3" fill="#ff0000" stroke="#000" stroke-width="0.95"/>
<ellipse cx="284.4" cy="417.6" rx="4.45" ry="4.3" fill="#ff0000" stroke="#000" stroke-width="0.95"/>
<ellipse cx="278.6" cy="425.0" rx="4.45" ry="4.3" fill="#ff0000" stroke="#000" stroke-width="0.95"/>
<ellipse cx="299.2" cy="417.0" rx="4.45" ry="4.3" fill="#ff0000" stroke="#000" stroke-width="0.95"/>
<ellipse cx="294.4" cy="433.0" rx="4.45" ry="4.3" fill="#ff0000" stroke="#000" stroke-width="0.95"/>
<ellipse cx="314.6" cy="434.6" rx="4.45" ry="4.3" fill="#ff0000" stroke="#000" stroke-width="0.95"/>
<ellipse cx="321.0" cy="432.0" rx="4.45" ry="4.3" fill="#ff0000" stroke="#000" stroke-width="0.95"/>
<ellipse cx="313.0" cy="446.0" rx="4.45" ry="4.3" fill="#ff0000" stroke="#000" stroke-width="0.95"/>
<ellipse cx="287.0" cy="447.0" rx="4.45" ry="4.3" fill="#ff0000" stroke="#000" stroke-width="0.95"/>
<ellipse cx="290.0" cy="452.4" rx="4.45" ry="4.3" fill="#ff0000" stroke="#000" stroke-width="0.95"/>
<ellipse cx="311.0" cy="457.6" rx="4.45" ry="4.3" fill="#ff0000" stroke="#000" stroke-width="0.95"/>
<ellipse cx="318.6" cy="461.4" rx="4.45" ry="4.3" fill="#ff0000" stroke="#000" stroke-width="0.95"/>
<ellipse cx="293.6" cy="467.4" rx="4.45" ry="4.3" fill="#ff0000" stroke="#000" stroke-width="0.95"/>
<ellipse cx="312.0" cy="479.4" rx="4.45" ry="4.3" fill="#ff0000" stroke="#000" stroke-width="0.95"/>
<ellipse cx="329.0" cy="486.6" rx="4.45" ry="4.3" fill="#ff0000" stroke="#000" stroke-width="0.95"/>
<text x="102.50" y="574.00" font-size="15.8" text-anchor="middle" textLength="18.4" lengthAdjust="spacingAndGlyphs" fill="#333333" >18</text>
<text x="167.70" y="574.00" font-size="15.8" text-anchor="middle" textLength="18.4" lengthAdjust="spacingAndGlyphs" fill="#333333" >20</text>
<text x="233.00" y="574.00" font-size="15.8" text-anchor="middle" textLength="18.4" lengthAdjust="spacingAndGlyphs" fill="#333333" >22</text>
<text x="298.60" y="574.00" font-size="15.8" text-anchor="middle" textLength="18.4" lengthAdjust="spacingAndGlyphs" fill="#333333" >24</text>
<text x="61.00" y="555.30" font-size="15.8" text-anchor="end" textLength="24.0" lengthAdjust="spacingAndGlyphs" fill="#333333" >0.1</text>
<text x="61.00" y="523.30" font-size="15.8" text-anchor="end" textLength="32.6" lengthAdjust="spacingAndGlyphs" fill="#333333" >0.12</text>
<text x="61.00" y="491.30" font-size="15.8" text-anchor="end" textLength="32.6" lengthAdjust="spacingAndGlyphs" fill="#333333" >0.14</text>
<text x="61.00" y="459.20" font-size="15.8" text-anchor="end" textLength="32.6" lengthAdjust="spacingAndGlyphs" fill="#333333" >0.16</text>
<text x="61.00" y="426.80" font-size="15.8" text-anchor="end" textLength="32.6" lengthAdjust="spacingAndGlyphs" fill="#333333" >0.18</text>
<text x="61.00" y="394.10" font-size="15.8" text-anchor="end" textLength="24.0" lengthAdjust="spacingAndGlyphs" fill="#333333" >0.2</text>
<text x="110.80" y="597.00" font-size="16.2" text-anchor="start" textLength="181.0" lengthAdjust="spacingAndGlyphs" fill="#333333" >f<tspan font-size="12" dy="7.0">1</tspan><tspan dy="-7.0">: Delivery Time (min)</tspan></text>
<text x="0" y="0" font-size="16.2" text-anchor="start" textLength="120.0" lengthAdjust="spacingAndGlyphs" transform="translate(13.30 513.00) scale(1.1 1) rotate(-90)" fill="#333333" >f<tspan font-size="12.5" dy="7.8">2</tspan><tspan dy="-7.8">: Conflict Risk</tspan></text>
<text x="126.80" y="337.40" font-size="16.2" text-anchor="start" font-weight="bold" textLength="157.0" lengthAdjust="spacingAndGlyphs" fill="#000" >(b) f<tspan font-size="12.8" dy="8.0">1</tspan><tspan dy="-8.0">-f</tspan><tspan font-size="12.8" dy="8.0">2</tspan><tspan dy="-8.0"> Projection</tspan></text>
<circle cx="86.0" cy="509.6" r="3.5" fill="#0000ff" stroke="#000" stroke-width="0.9"/>
<text x="106.80" y="514.60" font-size="12.6" text-anchor="start" textLength="37.5" lengthAdjust="spacingAndGlyphs" fill="#333333" ><tspan font-family="Liberation Serif" font-style="italic">&#x3f5;</tspan> = 0.1</text>
<circle cx="86.0" cy="525.6" r="3.5" fill="#00ff00" stroke="#000" stroke-width="0.9"/>
<text x="106.80" y="530.60" font-size="12.6" text-anchor="start" textLength="37.5" lengthAdjust="spacingAndGlyphs" fill="#333333" ><tspan font-family="Liberation Serif" font-style="italic">&#x3f5;</tspan> = 0.5</text>
<circle cx="86.0" cy="541.6" r="3.5" fill="#ff0000" stroke="#000" stroke-width="0.9"/>
<text x="106.80" y="546.60" font-size="12.6" text-anchor="start" textLength="37.5" lengthAdjust="spacingAndGlyphs" fill="#333333" ><tspan font-family="Liberation Serif" font-style="italic">&#x3f5;</tspan> = 1.0</text>
<rect x="416.50" y="360.50" width="253.00" height="191.00" fill="none" stroke="#808080" stroke-width="1"/>
<line x1="448.50" y1="552.00" x2="448.50" y2="554.50" stroke="#808080" stroke-width="1" />
<line x1="448.50" y1="360.00" x2="448.50" y2="357.50" stroke="#808080" stroke-width="1" />
<line x1="511.50" y1="552.00" x2="511.50" y2="554.50" stroke="#808080" stroke-width="1" />
<line x1="511.50" y1="360.00" x2="511.50" y2="357.50" stroke="#808080" stroke-width="1" />
<line x1="574.50" y1="552.00" x2="574.50" y2="554.50" stroke="#808080" stroke-width="1" />
<line x1="574.50" y1="360.00" x2="574.50" y2="357.50" stroke="#808080" stroke-width="1" />
<line x1="637.50" y1="552.00" x2="637.50" y2="554.50" stroke="#808080" stroke-width="1" />
<line x1="637.50" y1="360.00" x2="637.50" y2="357.50" stroke="#808080" stroke-width="1" />
<line x1="416.00" y1="527.50" x2="413.50" y2="527.50" stroke="#808080" stroke-width="1" />
<line x1="670.00" y1="527.50" x2="672.50" y2="527.50" stroke="#808080" stroke-width="1" />
<line x1="416.00" y1="480.50" x2="413.50" y2="480.50" stroke="#808080" stroke-width="1" />
<line x1="670.00" y1="480.50" x2="672.50" y2="480.50" stroke="#808080" stroke-width="1" />
<line x1="416.00" y1="432.50" x2="413.50" y2="432.50" stroke="#808080" stroke-width="1" />
<line x1="670.00" y1="432.50" x2="672.50" y2="432.50" stroke="#808080" stroke-width="1" />
<line x1="416.00" y1="384.50" x2="413.50" y2="384.50" stroke="#808080" stroke-width="1" />
<line x1="670.00" y1="384.50" x2="672.50" y2="384.50" stroke="#808080" stroke-width="1" />
<ellipse cx="442.7" cy="527.6" rx="4.45" ry="4.3" fill="#0000ff" stroke="#000" stroke-width="0.95"/>
<ellipse cx="448.8" cy="522.2" rx="4.45" ry="4.3" fill="#0000ff" stroke="#000" stroke-width="0.95"/>
<ellipse cx="458.8" cy="520.7" rx="4.45" ry="4.3" fill="#0000ff" stroke="#000" stroke-width="0.95"/>
<ellipse cx="459.1" cy="530.2" rx="4.45" ry="4.3" fill="#0000ff" stroke="#000" stroke-width="0.95"/>
<ellipse cx="462.7" cy="536.4" rx="4.45" ry="4.3" fill="#0000ff" stroke="#000" stroke-width="0.95"/>
<ellipse cx="451.0" cy="540.7" rx="4.45" ry="4.3" fill="#0000ff" stroke="#000" stroke-width="0.95"/>
<ellipse cx="456.1" cy="541.5" rx="4.45" ry="4.3" fill="#0000ff" stroke="#000" stroke-width="0.95"/>
<ellipse cx="470.0" cy="541.8" rx="4.45" ry="4.3" fill="#0000ff" stroke="#000" stroke-width="0.95"/>
<ellipse cx="473.7" cy="529.8" rx="4.45" ry="4.3" fill="#0000ff" stroke="#000" stroke-width="0.95"/>
<ellipse cx="475.1" cy="534.6" rx="4.45" ry="4.3" fill="#0000ff" stroke="#000" stroke-width="0.95"/>
<ellipse cx="468.1" cy="518.1" rx="4.45" ry="4.3" fill="#0000ff" stroke="#000" stroke-width="0.95"/>
<ellipse cx="480.2" cy="502.5" rx="4.45" ry="4.3" fill="#0000ff" stroke="#000" stroke-width="0.95"/>
<ellipse cx="480.2" cy="516.6" rx="4.45" ry="4.3" fill="#0000ff" stroke="#000" stroke-width="0.95"/>
<ellipse cx="478.8" cy="510.0" rx="4.45" ry="4.3" fill="#0000ff" stroke="#000" stroke-width="0.95"/>
<ellipse cx="489.7" cy="523.9" rx="4.45" ry="4.3" fill="#0000ff" stroke="#000" stroke-width="0.95"/>
<ellipse cx="489.0" cy="518.1" rx="4.45" ry="4.3" fill="#0000ff" stroke="#000" stroke-width="0.95"/>
<ellipse cx="500.0" cy="513.0" rx="4.45" ry="4.3" fill="#0000ff" stroke="#000" stroke-width="0.95"/>
<ellipse cx="503.6" cy="513.7" rx="4.45" ry="4.3" fill="#0000ff" stroke="#000" stroke-width="0.95"/>
<ellipse cx="499.2" cy="526.1" rx="4.45" ry="4.3" fill="#0000ff" stroke="#000" stroke-width="0.95"/>
<ellipse cx="495.6" cy="524.7" rx="4.45" ry="4.3" fill="#0000ff" stroke="#000" stroke-width="0.95"/>
<ellipse cx="487.5" cy="508.6" rx="4.45" ry="4.3" fill="#0000ff" stroke="#000" stroke-width="0.95"/>
<ellipse cx="503.6" cy="507.2" rx="4.45" ry="4.3" fill="#0000ff" stroke="#000" stroke-width="0.95"/>
<ellipse cx="567.2" cy="450.5" rx="4.45" ry="4.3" fill="#0000ff" stroke="#000" stroke-width="0.95"/>
<ellipse cx="594.7" cy="456.8" rx="4.45" ry="4.3" fill="#0000ff" stroke="#000" stroke-width="0.95"/>
<ellipse cx="553.8" cy="471.4" rx="4.45" ry="4.3" fill="#0000ff" stroke="#000" stroke-width="0.95"/>
<ellipse cx="558.2" cy="471.4" rx="4.45" ry="4.3" fill="#0000ff" stroke="#000" stroke-width="0.95"/>
<ellipse cx="567.7" cy="467.0" rx="4.45" ry="4.3" fill="#0000ff" stroke="#000" stroke-width="0.95"/>
<ellipse cx="570.6" cy="469.9" rx="4.45" ry="4.3" fill="#0000ff" stroke="#000" stroke-width="0.95"/>
<ellipse cx="567.7" cy="474.3" rx="4.45" ry="4.3" fill="#0000ff" stroke="#000" stroke-width="0.95"/>
<ellipse cx="533.4" cy="478.7" rx="4.45" ry="4.3" fill="#0000ff" stroke="#000" stroke-width="0.95"/>
<ellipse cx="537.7" cy="480.9" rx="4.45" ry="4.3" fill="#0000ff" stroke="#000" stroke-width="0.95"/>
<ellipse cx="543.9" cy="483.8" rx="4.45" ry="4.3" fill="#0000ff" stroke="#000" stroke-width="0.95"/>
<ellipse cx="550.1" cy="496.2" rx="4.45" ry="4.3" fill="#0000ff" stroke="#000" stroke-width="0.95"/>
<ellipse cx="553.8" cy="496.9" rx="4.45" ry="4.3" fill="#0000ff" stroke="#000" stroke-width="0.95"/>
<ellipse cx="546.5" cy="494.7" rx="4.45" ry="4.3" fill="#0000ff" stroke="#000" stroke-width="0.95"/>
<ellipse cx="515.8" cy="491.8" rx="4.45" ry="4.3" fill="#0000ff" stroke="#000" stroke-width="0.95"/>
<ellipse cx="525.3" cy="502.8" rx="4.45" ry="4.3" fill="#0000ff" stroke="#000" stroke-width="0.95"/>
<ellipse cx="527.5" cy="505.7" rx="4.45" ry="4.3" fill="#0000ff" stroke="#000" stroke-width="0.95"/>
<ellipse cx="515.8" cy="510.1" rx="4.45" ry="4.3" fill="#0000ff" stroke="#000" stroke-width="0.95"/>
<ellipse cx="520.2" cy="515.9" rx="4.45" ry="4.3" fill="#0000ff" stroke="#000" stroke-width="0.95"/>
<ellipse cx="519.5" cy="519.6" rx="4.45" ry="4.3" fill="#0000ff" stroke="#000" stroke-width="0.95"/>
<ellipse cx="488.3" cy="489.3" rx="4.45" ry="4.3" fill="#00ff00" stroke="#000" stroke-width="0.95"/>
<ellipse cx="486.1" cy="498.4" rx="4.45" ry="4.3" fill="#00ff00" stroke="#000" stroke-width="0.95"/>
<ellipse cx="471.5" cy="511.5" rx="4.45" ry="4.3" fill="#00ff00" stroke="#000" stroke-width="0.95"/>
<ellipse cx="483.9" cy="511.5" rx="4.45" ry="4.3" fill="#00ff00" stroke="#000" stroke-width="0.95"/>
<ellipse cx="491.9" cy="507.2" rx="4.45" ry="4.3" fill="#00ff00" stroke="#000" stroke-width="0.95"/>
<ellipse cx="493.1" cy="512.0" rx="4.45" ry="4.3" fill="#00ff00" stroke="#000" stroke-width="0.95"/>
<ellipse cx="497.0" cy="500.6" rx="4.45" ry="4.3" fill="#00ff00" stroke="#000" stroke-width="0.95"/>
<ellipse cx="502.1" cy="498.4" rx="4.45" ry="4.3" fill="#00ff00" stroke="#000" stroke-width="0.95"/>
<ellipse cx="505.3" cy="494.7" rx="4.45" ry="4.3" fill="#00ff00" stroke="#000" stroke-width="0.95"/>
<ellipse cx="510.9" cy="496.2" rx="4.45" ry="4.3" fill="#00ff00" stroke="#000" stroke-width="0.95"/>
<ellipse cx="507.2" cy="504.2" rx="4.45" ry="4.3" fill="#00ff00" stroke="#000" stroke-width="0.95"/>
<ellipse cx="507.7" cy="510.0" rx="4.45" ry="4.3" fill="#00ff00" stroke="#000" stroke-width="0.95"/>
<ellipse cx="507.2" cy="521.0" rx="4.45" ry="4.3" fill="#00ff00" stroke="#000" stroke-width="0.95"/>
<ellipse cx="499.5" cy="523.9" rx="4.45" ry="4.3" fill="#00ff00" stroke="#000" stroke-width="0.95"/>
<ellipse cx="546.2" cy="466.3" rx="4.45" ry="4.3" fill="#00ff00" stroke="#000" stroke-width="0.95"/>
<ellipse cx="556.0" cy="464.5" rx="4.45" ry="4.3" fill="#00ff00" stroke="#000" stroke-width="0.95"/>
<ellipse cx="553.8" cy="478.7" rx="4.45" ry="4.3" fill="#00ff00" stroke="#000" stroke-width="0.95"/>
<ellipse cx="560.4" cy="478.0" rx="4.45" ry="4.3" fill="#00ff00" stroke="#000" stroke-width="0.95"/>
<ellipse cx="577.4" cy="471.0" rx="4.45" ry="4.3" fill="#00ff00" stroke="#000" stroke-width="0.95"/>
<ellipse cx="534.8" cy="486.7" rx="4.45" ry="4.3" fill="#00ff00" stroke="#000" stroke-width="0.95"/>
<ellipse cx="531.6" cy="487.4" rx="4.45" ry="4.3" fill="#00ff00" stroke="#000" stroke-width="0.95"/>
<ellipse cx="526.1" cy="493.7" rx="4.45" ry="4.3" fill="#00ff00" stroke="#000" stroke-width="0.95"/>
<ellipse cx="531.2" cy="494.5" rx="4.45" ry="4.3" fill="#00ff00" stroke="#000" stroke-width="0.95"/>
<ellipse cx="541.4" cy="492.3" rx="4.45" ry="4.3" fill="#00ff00" stroke="#000" stroke-width="0.95"/>
<ellipse cx="540.7" cy="498.7" rx="4.45" ry="4.3" fill="#00ff00" stroke="#000" stroke-width="0.95"/>
<ellipse cx="518.0" cy="496.9" rx="4.45" ry="4.3" fill="#00ff00" stroke="#000" stroke-width="0.95"/>
<ellipse cx="526.1" cy="511.1" rx="4.45" ry="4.3" fill="#00ff00" stroke="#000" stroke-width="0.95"/>
<ellipse cx="573.5" cy="486.0" rx="4.45" ry="4.3" fill="#00ff00" stroke="#000" stroke-width="0.95"/>
<ellipse cx="578.6" cy="489.6" rx="4.45" ry="4.3" fill="#00ff00" stroke="#000" stroke-width="0.95"/>
<ellipse cx="573.5" cy="492.8" rx="4.45" ry="4.3" fill="#00ff00" stroke="#000" stroke-width="0.95"/>
<ellipse cx="581.5" cy="496.9" rx="4.45" ry="4.3" fill="#00ff00" stroke="#000" stroke-width="0.95"/>
<ellipse cx="591.8" cy="451.7" rx="4.45" ry="4.3" fill="#00ff00" stroke="#000" stroke-width="0.95"/>
<ellipse cx="589.6" cy="467.0" rx="4.45" ry="4.3" fill="#00ff00" stroke="#000" stroke-width="0.95"/>
<ellipse cx="598.3" cy="464.1" rx="4.45" ry="4.3" fill="#00ff00" stroke="#000" stroke-width="0.95"/>
<ellipse cx="604.2" cy="469.9" rx="4.45" ry="4.3" fill="#00ff00" stroke="#000" stroke-width="0.95"/>
<ellipse cx="598.8" cy="478.0" rx="4.45" ry="4.3" fill="#00ff00" stroke="#000" stroke-width="0.95"/>
<ellipse cx="640.8" cy="424.5" rx="4.45" ry="4.3" fill="#00ff00" stroke="#000" stroke-width="0.95"/>
<ellipse cx="587.5" cy="433.0" rx="4.45" ry="4.3" fill="#00ff00" stroke="#000" stroke-width="0.95"/>
<ellipse cx="601.0" cy="428.9" rx="4.45" ry="4.3" fill="#00ff00" stroke="#000" stroke-width="0.95"/>
<ellipse cx="614.8" cy="442.9" rx="4.45" ry="4.3" fill="#00ff00" stroke="#000" stroke-width="0.95"/>
<ellipse cx="620.4" cy="440.0" rx="4.45" ry="4.3" fill="#00ff00" stroke="#000" stroke-width="0.95"/>
<ellipse cx="621.4" cy="448.3" rx="4.45" ry="4.3" fill="#00ff00" stroke="#000" stroke-width="0.95"/>
<ellipse cx="614.5" cy="452.7" rx="4.45" ry="4.3" fill="#00ff00" stroke="#000" stroke-width="0.95"/>
<ellipse cx="627.7" cy="463.4" rx="4.45" ry="4.3" fill="#00ff00" stroke="#000" stroke-width="0.95"/>
<ellipse cx="628.1" cy="468.0" rx="4.45" ry="4.3" fill="#00ff00" stroke="#000" stroke-width="0.95"/>
<ellipse cx="518.0" cy="462.2" rx="4.45" ry="4.3" fill="#ff0000" stroke="#000" stroke-width="0.95"/>
<ellipse cx="526.5" cy="463.6" rx="4.45" ry="4.3" fill="#ff0000" stroke="#000" stroke-width="0.95"/>
<ellipse cx="519.0" cy="468.0" rx="4.45" ry="4.3" fill="#ff0000" stroke="#000" stroke-width="0.95"/>
<ellipse cx="517.0" cy="480.9" rx="4.45" ry="4.3" fill="#ff0000" stroke="#000" stroke-width="0.95"/>
<ellipse cx="522.4" cy="483.5" rx="4.45" ry="4.3" fill="#ff0000" stroke="#000" stroke-width="0.95"/>
<ellipse cx="526.5" cy="477.2" rx="4.45" ry="4.3" fill="#ff0000" stroke="#000" stroke-width="0.95"/>
<ellipse cx="540.7" cy="460.7" rx="4.45" ry="4.3" fill="#ff0000" stroke="#000" stroke-width="0.95"/>
<ellipse cx="551.2" cy="461.9" rx="4.45" ry="4.3" fill="#ff0000" stroke="#000" stroke-width="0.95"/>
<ellipse cx="564.0" cy="471.8" rx="4.45" ry="4.3" fill="#ff0000" stroke="#000" stroke-width="0.95"/>
<ellipse cx="550.6" cy="483.5" rx="4.45" ry="4.3" fill="#ff0000" stroke="#000" stroke-width="0.95"/>
<ellipse cx="558.5" cy="486.4" rx="4.45" ry="4.3" fill="#ff0000" stroke="#000" stroke-width="0.95"/>
<ellipse cx="548.2" cy="491.4" rx="4.45" ry="4.3" fill="#ff0000" stroke="#000" stroke-width="0.95"/>
<ellipse cx="558.5" cy="494.7" rx="4.45" ry="4.3" fill="#ff0000" stroke="#000" stroke-width="0.95"/>
<ellipse cx="517.3" cy="503.2" rx="4.45" ry="4.3" fill="#ff0000" stroke="#000" stroke-width="0.95"/>
<ellipse cx="537.0" cy="504.2" rx="4.45" ry="4.3" fill="#ff0000" stroke="#000" stroke-width="0.95"/>
<ellipse cx="518.8" cy="530.2" rx="4.45" ry="4.3" fill="#ff0000" stroke="#000" stroke-width="0.95"/>
<ellipse cx="559.9" cy="520.3" rx="4.45" ry="4.3" fill="#ff0000" stroke="#000" stroke-width="0.95"/>
<ellipse cx="572.8" cy="508.3" rx="4.45" ry="4.3" fill="#ff0000" stroke="#000" stroke-width="0.95"/>
<ellipse cx="587.4" cy="497.2" rx="4.45" ry="4.3" fill="#ff0000" stroke="#000" stroke-width="0.95"/>
<ellipse cx="582.3" cy="481.3" rx="4.45" ry="4.3" fill="#ff0000" stroke="#000" stroke-width="0.95"/>
<ellipse cx="578.3" cy="482.3" rx="4.45" ry="4.3" fill="#ff0000" stroke="#000" stroke-width="0.95"/>
<ellipse cx="583.0" cy="475.5" rx="4.45" ry="4.3" fill="#ff0000" stroke="#000" stroke-width="0.95"/>
<ellipse cx="591.8" cy="474.7" rx="4.45" ry="4.3" fill="#ff0000" stroke="#000" stroke-width="0.95"/>
<ellipse cx="595.8" cy="469.9" rx="4.45" ry="4.3" fill="#ff0000" stroke="#000" stroke-width="0.95"/>
<ellipse cx="599.8" cy="471.4" rx="4.45" ry="4.3" fill="#ff0000" stroke="#000" stroke-width="0.95"/>
<ellipse cx="593.6" cy="464.5" rx="4.45" ry="4.3" fill="#ff0000" stroke="#000" stroke-width="0.95"/>
<ellipse cx="584.7" cy="450.5" rx="4.45" ry="4.3" fill="#ff0000" stroke="#000" stroke-width="0.95"/>
<ellipse cx="590.7" cy="442.6" rx="4.45" ry="4.3" fill="#ff0000" stroke="#000" stroke-width="0.95"/>
<ellipse cx="597.3" cy="443.6" rx="4.45" ry="4.3" fill="#ff0000" stroke="#000" stroke-width="0.95"/>
<ellipse cx="598.0" cy="448.8" rx="4.45" ry="4.3" fill="#ff0000" stroke="#000" stroke-width="0.95"/>
<ellipse cx="605.2" cy="449.8" rx="4.45" ry="4.3" fill="#ff0000" stroke="#000" stroke-width="0.95"/>
<ellipse cx="638.3" cy="386.6" rx="4.45" ry="4.3" fill="#ff0000" stroke="#000" stroke-width="0.95"/>
<ellipse cx="653.5" cy="392.1" rx="4.45" ry="4.3" fill="#ff0000" stroke="#000" stroke-width="0.95"/>
<ellipse cx="659.8" cy="393.6" rx="4.45" ry="4.3" fill="#ff0000" stroke="#000" stroke-width="0.95"/>
<ellipse cx="667.1" cy="389.9" rx="4.45" ry="4.3" fill="#ff0000" stroke="#000" stroke-width="0.95"/>
<ellipse cx="650.6" cy="400.1" rx="4.45" ry="4.3" fill="#ff0000" stroke="#000" stroke-width="0.95"/>
<ellipse cx="657.3" cy="403.1" rx="4.45" ry="4.3" fill="#ff0000" stroke="#000" stroke-width="0.95"/>
<ellipse cx="626.6" cy="409.3" rx="4.45" ry="4.3" fill="#ff0000" stroke="#000" stroke-width="0.95"/>
<ellipse cx="633.1" cy="412.6" rx="4.45" ry="4.3" fill="#ff0000" stroke="#000" stroke-width="0.95"/>
<ellipse cx="633.9" cy="415.5" rx="4.45" ry="4.3" fill="#ff0000" stroke="#000" stroke-width="0.95"/>
<ellipse cx="649.6" cy="421.6" rx="4.45" ry="4.3" fill="#ff0000" stroke="#000" stroke-width="0.95"/>
<ellipse cx="652.0" cy="422.8" rx="4.45" ry="4.3" fill="#ff0000" stroke="#000" stroke-width="0.95"/>
<ellipse cx="618.6" cy="435.2" rx="4.45" ry="4.3" fill="#ff0000" stroke="#000" stroke-width="0.95"/>
<ellipse cx="624.0" cy="436.6" rx="4.45" ry="4.3" fill="#ff0000" stroke="#000" stroke-width="0.95"/>
<ellipse cx="629.6" cy="438.1" rx="4.45" ry="4.3" fill="#ff0000" stroke="#000" stroke-width="0.95"/>
<ellipse cx="620.7" cy="457.5" rx="4.45" ry="4.3" fill="#ff0000" stroke="#000" stroke-width="0.95"/>
<text x="448.00" y="576.00" font-size="15.6" text-anchor="middle" textLength="18.2" lengthAdjust="spacingAndGlyphs" fill="#333333" >18</text>
<text x="511.50" y="576.00" font-size="15.6" text-anchor="middle" textLength="18.2" lengthAdjust="spacingAndGlyphs" fill="#333333" >20</text>
<text x="574.20" y="576.00" font-size="15.6" text-anchor="middle" textLength="18.2" lengthAdjust="spacingAndGlyphs" fill="#333333" >22</text>
<text x="637.60" y="576.00" font-size="15.6" text-anchor="middle" textLength="18.2" lengthAdjust="spacingAndGlyphs" fill="#333333" >24</text>
<text x="408.00" y="533.70" font-size="15.6" text-anchor="end" textLength="26.8" lengthAdjust="spacingAndGlyphs" fill="#333333" >140</text>
<text x="408.00" y="485.90" font-size="15.6" text-anchor="end" textLength="26.8" lengthAdjust="spacingAndGlyphs" fill="#333333" >150</text>
<text x="408.00" y="438.10" font-size="15.6" text-anchor="end" textLength="26.8" lengthAdjust="spacingAndGlyphs" fill="#333333" >160</text>
<text x="408.00" y="390.30" font-size="15.6" text-anchor="end" textLength="26.8" lengthAdjust="spacingAndGlyphs" fill="#333333" >170</text>
<text x="454.80" y="597.00" font-size="16.0" text-anchor="start" textLength="177.0" lengthAdjust="spacingAndGlyphs" fill="#333333" >f<tspan font-size="12" dy="7.0">1</tspan><tspan dy="-7.0">: Delivery Time (min)</tspan></text>
<text x="0" y="0" font-size="16.0" text-anchor="start" textLength="184.5" lengthAdjust="spacingAndGlyphs" transform="translate(366.30 548.30) scale(1.1 1) rotate(-90)" fill="#333333" >f<tspan font-size="12.5" dy="7.8">3</tspan><tspan dy="-7.8">: Operating Cost (kWh)</tspan></text>
<text x="471.70" y="341.90" font-size="15.6" text-anchor="start" font-weight="bold" textLength="151.5" lengthAdjust="spacingAndGlyphs" fill="#000" >(c) f<tspan font-size="12.5" dy="7.8">1</tspan><tspan dy="-7.8">-f</tspan><tspan font-size="12.5" dy="7.8">3</tspan><tspan dy="-7.8"> Projection</tspan></text>
<circle cx="446.0" cy="378.6" r="3.5" fill="#0000ff" stroke="#000" stroke-width="0.9"/>
<text x="465.40" y="383.40" font-size="12.2" text-anchor="start" textLength="36.5" lengthAdjust="spacingAndGlyphs" fill="#333333" ><tspan font-family="Liberation Serif" font-style="italic">&#x3f5;</tspan> = 0.1</text>
<circle cx="446.0" cy="394.2" r="3.5" fill="#00ff00" stroke="#000" stroke-width="0.9"/>
<text x="465.40" y="399.00" font-size="12.2" text-anchor="start" textLength="36.5" lengthAdjust="spacingAndGlyphs" fill="#333333" ><tspan font-family="Liberation Serif" font-style="italic">&#x3f5;</tspan> = 0.5</text>
<circle cx="446.0" cy="409.8" r="3.5" fill="#ff0000" stroke="#000" stroke-width="0.9"/>
<text x="465.40" y="414.60" font-size="12.2" text-anchor="start" textLength="36.5" lengthAdjust="spacingAndGlyphs" fill="#333333" ><tspan font-family="Liberation Serif" font-style="italic">&#x3f5;</tspan> = 1.0</text>
<rect x="66.50" y="691.50" width="264.00" height="209.00" fill="none" stroke="#808080" stroke-width="1"/>
<line x1="66.50" y1="901.00" x2="66.50" y2="903.50" stroke="#808080" stroke-width="1" />
<line x1="66.50" y1="691.00" x2="66.50" y2="688.50" stroke="#808080" stroke-width="1" />
<line x1="176.50" y1="901.00" x2="176.50" y2="903.50" stroke="#808080" stroke-width="1" />
<line x1="176.50" y1="691.00" x2="176.50" y2="688.50" stroke="#808080" stroke-width="1" />
<line x1="286.50" y1="901.00" x2="286.50" y2="903.50" stroke="#808080" stroke-width="1" />
<line x1="286.50" y1="691.00" x2="286.50" y2="688.50" stroke="#808080" stroke-width="1" />
<line x1="66.00" y1="873.50" x2="63.50" y2="873.50" stroke="#808080" stroke-width="1" />
<line x1="331.00" y1="873.50" x2="333.50" y2="873.50" stroke="#808080" stroke-width="1" />
<line x1="66.00" y1="821.50" x2="63.50" y2="821.50" stroke="#808080" stroke-width="1" />
<line x1="331.00" y1="821.50" x2="333.50" y2="821.50" stroke="#808080" stroke-width="1" />
<line x1="66.00" y1="769.50" x2="63.50" y2="769.50" stroke="#808080" stroke-width="1" />
<line x1="331.00" y1="769.50" x2="333.50" y2="769.50" stroke="#808080" stroke-width="1" />
<line x1="66.00" y1="717.50" x2="63.50" y2="717.50" stroke="#808080" stroke-width="1" />
<line x1="331.00" y1="717.50" x2="333.50" y2="717.50" stroke="#808080" stroke-width="1" />
<ellipse cx="78.7" cy="810.8" rx="4.45" ry="4.3" fill="#0000ff" stroke="#000" stroke-width="0.95"/>
<ellipse cx="81.6" cy="815.9" rx="4.45" ry="4.3" fill="#0000ff" stroke="#000" stroke-width="0.95"/>
<ellipse cx="89.9" cy="813.7" rx="4.45" ry="4.3" fill="#0000ff" stroke="#000" stroke-width="0.95"/>
<ellipse cx="91.4" cy="808.9" rx="4.45" ry="4.3" fill="#0000ff" stroke="#000" stroke-width="0.95"/>
<ellipse cx="111.1" cy="821.3" rx="4.45" ry="4.3" fill="#0000ff" stroke="#000" stroke-width="0.95"/>
<ellipse cx="107.9" cy="830.0" rx="4.45" ry="4.3" fill="#0000ff" stroke="#000" stroke-width="0.95"/>
<ellipse cx="101.2" cy="839.2" rx="4.45" ry="4.3" fill="#0000ff" stroke="#000" stroke-width="0.95"/>
<ellipse cx="108.9" cy="835.9" rx="4.45" ry="4.3" fill="#0000ff" stroke="#000" stroke-width="0.95"/>
<ellipse cx="112.8" cy="839.8" rx="4.45" ry="4.3" fill="#0000ff" stroke="#000" stroke-width="0.95"/>
<ellipse cx="115.2" cy="846.5" rx="4.45" ry="4.3" fill="#0000ff" stroke="#000" stroke-width="0.95"/>
<ellipse cx="105.0" cy="854.6" rx="4.45" ry="4.3" fill="#0000ff" stroke="#000" stroke-width="0.95"/>
<ellipse cx="106.0" cy="864.8" rx="4.45" ry="4.3" fill="#0000ff" stroke="#000" stroke-width="0.95"/>
<ellipse cx="125.0" cy="827.8" rx="4.45" ry="4.3" fill="#0000ff" stroke="#000" stroke-width="0.95"/>
<ellipse cx="127.9" cy="826.8" rx="4.45" ry="4.3" fill="#0000ff" stroke="#000" stroke-width="0.95"/>
<ellipse cx="126.9" cy="838.1" rx="4.45" ry="4.3" fill="#0000ff" stroke="#000" stroke-width="0.95"/>
<ellipse cx="140.7" cy="832.7" rx="4.45" ry="4.3" fill="#0000ff" stroke="#000" stroke-width="0.95"/>
<ellipse cx="144.7" cy="823.5" rx="4.45" ry="4.3" fill="#0000ff" stroke="#000" stroke-width="0.95"/>
<ellipse cx="132.3" cy="850.2" rx="4.45" ry="4.3" fill="#0000ff" stroke="#000" stroke-width="0.95"/>
<ellipse cx="141.0" cy="853.1" rx="4.45" ry="4.3" fill="#0000ff" stroke="#000" stroke-width="0.95"/>
<ellipse cx="149.3" cy="857.0" rx="4.45" ry="4.3" fill="#0000ff" stroke="#000" stroke-width="0.95"/>
<ellipse cx="154.9" cy="869.9" rx="4.45" ry="4.3" fill="#0000ff" stroke="#000" stroke-width="0.95"/>
<ellipse cx="157.8" cy="880.4" rx="4.45" ry="4.3" fill="#0000ff" stroke="#000" stroke-width="0.95"/>
<ellipse cx="169.7" cy="846.8" rx="4.45" ry="4.3" fill="#0000ff" stroke="#000" stroke-width="0.95"/>
<ellipse cx="180.4" cy="847.6" rx="4.45" ry="4.3" fill="#0000ff" stroke="#000" stroke-width="0.95"/>
<ellipse cx="173.4" cy="859.0" rx="4.45" ry="4.3" fill="#0000ff" stroke="#000" stroke-width="0.95"/>
<ellipse cx="178.5" cy="861.4" rx="4.45" ry="4.3" fill="#0000ff" stroke="#000" stroke-width="0.95"/>
<ellipse cx="181.4" cy="857.0" rx="4.45" ry="4.3" fill="#0000ff" stroke="#000" stroke-width="0.95"/>
<ellipse cx="185.8" cy="857.8" rx="4.45" ry="4.3" fill="#0000ff" stroke="#000" stroke-width="0.95"/>
<ellipse cx="182.4" cy="860.7" rx="4.45" ry="4.3" fill="#0000ff" stroke="#000" stroke-width="0.95"/>
<ellipse cx="190.1" cy="862.9" rx="4.45" ry="4.3" fill="#0000ff" stroke="#000" stroke-width="0.95"/>
<ellipse cx="197.0" cy="864.3" rx="4.45" ry="4.3" fill="#0000ff" stroke="#000" stroke-width="0.95"/>
<ellipse cx="200.4" cy="854.9" rx="4.45" ry="4.3" fill="#0000ff" stroke="#000" stroke-width="0.95"/>
<ellipse cx="208.1" cy="852.4" rx="4.45" ry="4.3" fill="#0000ff" stroke="#000" stroke-width="0.95"/>
<ellipse cx="184.3" cy="869.7" rx="4.45" ry="4.3" fill="#0000ff" stroke="#000" stroke-width="0.95"/>
<ellipse cx="190.6" cy="872.1" rx="4.45" ry="4.3" fill="#0000ff" stroke="#000" stroke-width="0.95"/>
<ellipse cx="194.2" cy="876.8" rx="4.45" ry="4.3" fill="#0000ff" stroke="#000" stroke-width="0.95"/>
<ellipse cx="194.5" cy="888.4" rx="4.45" ry="4.3" fill="#0000ff" stroke="#000" stroke-width="0.95"/>
<ellipse cx="200.4" cy="887.7" rx="4.45" ry="4.3" fill="#0000ff" stroke="#000" stroke-width="0.95"/>
<ellipse cx="240.5" cy="876.5" rx="4.45" ry="4.3" fill="#0000ff" stroke="#000" stroke-width="0.95"/>
<ellipse cx="251.1" cy="868.0" rx="4.45" ry="4.3" fill="#0000ff" stroke="#000" stroke-width="0.95"/>
<ellipse cx="264.9" cy="866.5" rx="4.45" ry="4.3" fill="#0000ff" stroke="#000" stroke-width="0.95"/>
<ellipse cx="260.1" cy="873.8" rx="4.45" ry="4.3" fill="#0000ff" stroke="#000" stroke-width="0.95"/>
<ellipse cx="281.7" cy="882.9" rx="4.45" ry="4.3" fill="#0000ff" stroke="#000" stroke-width="0.95"/>
<ellipse cx="95.5" cy="761.5" rx="4.45" ry="4.3" fill="#00ff00" stroke="#000" stroke-width="0.95"/>
<ellipse cx="110.5" cy="770.7" rx="4.45" ry="4.3" fill="#00ff00" stroke="#000" stroke-width="0.95"/>
<ellipse cx="134.3" cy="766.2" rx="4.45" ry="4.3" fill="#00ff00" stroke="#000" stroke-width="0.95"/>
<ellipse cx="125.9" cy="781.2" rx="4.45" ry="4.3" fill="#00ff00" stroke="#000" stroke-width="0.95"/>
<ellipse cx="106.4" cy="787.1" rx="4.45" ry="4.3" fill="#00ff00" stroke="#000" stroke-width="0.95"/>
<ellipse cx="163.1" cy="791.0" rx="4.45" ry="4.3" fill="#00ff00" stroke="#000" stroke-width="0.95"/>
<ellipse cx="203.7" cy="777.9" rx="4.45" ry="4.3" fill="#00ff00" stroke="#000" stroke-width="0.95"/>
<ellipse cx="198.4" cy="791.5" rx="4.45" ry="4.3" fill="#00ff00" stroke="#000" stroke-width="0.95"/>
<ellipse cx="65.8" cy="807.8" rx="4.45" ry="4.3" fill="#00ff00" stroke="#000" stroke-width="0.95"/>
<ellipse cx="91.8" cy="804.5" rx="4.45" ry="4.3" fill="#00ff00" stroke="#000" stroke-width="0.95"/>
<ellipse cx="108.2" cy="812.2" rx="4.45" ry="4.3" fill="#00ff00" stroke="#000" stroke-width="0.95"/>
<ellipse cx="127.6" cy="804.9" rx="4.45" ry="4.3" fill="#00ff00" stroke="#000" stroke-width="0.95"/>
<ellipse cx="135.6" cy="804.1" rx="4.45" ry="4.3" fill="#00ff00" stroke="#000" stroke-width="0.95"/>
<ellipse cx="144.4" cy="819.1" rx="4.45" ry="4.3" fill="#00ff00" stroke="#000" stroke-width="0.95"/>
<ellipse cx="153.0" cy="819.1" rx="4.45" ry="4.3" fill="#00ff00" stroke="#000" stroke-width="0.95"/>
<ellipse cx="170.1" cy="807.8" rx="4.45" ry="4.3" fill="#00ff00" stroke="#000" stroke-width="0.95"/>
<ellipse cx="176.0" cy="811.4" rx="4.45" ry="4.3" fill="#00ff00" stroke="#000" stroke-width="0.95"/>
<ellipse cx="161.7" cy="825.7" rx="4.45" ry="4.3" fill="#00ff00" stroke="#000" stroke-width="0.95"/>
<ellipse cx="185.8" cy="821.0" rx="4.45" ry="4.3" fill="#00ff00" stroke="#000" stroke-width="0.95"/>
<ellipse cx="174.1" cy="828.9" rx="4.45" ry="4.3" fill="#00ff00" stroke="#000" stroke-width="0.95"/>
<ellipse cx="179.2" cy="831.8" rx="4.45" ry="4.3" fill="#00ff00" stroke="#000" stroke-width="0.95"/>
<ellipse cx="183.6" cy="832.7" rx="4.45" ry="4.3" fill="#00ff00" stroke="#000" stroke-width="0.95"/>
<ellipse cx="185.0" cy="835.9" rx="4.45" ry="4.3" fill="#00ff00" stroke="#000" stroke-width="0.95"/>
<ellipse cx="192.6" cy="836.6" rx="4.45" ry="4.3" fill="#00ff00" stroke="#000" stroke-width="0.95"/>
<ellipse cx="196.0" cy="829.7" rx="4.45" ry="4.3" fill="#00ff00" stroke="#000" stroke-width="0.95"/>
<ellipse cx="201.1" cy="832.2" rx="4.45" ry="4.3" fill="#00ff00" stroke="#000" stroke-width="0.95"/>
<ellipse cx="188.0" cy="842.4" rx="4.45" ry="4.3" fill="#00ff00" stroke="#000" stroke-width="0.95"/>
<ellipse cx="172.2" cy="840.3" rx="4.45" ry="4.3" fill="#00ff00" stroke="#000" stroke-width="0.95"/>
<ellipse cx="176.3" cy="841.0" rx="4.45" ry="4.3" fill="#00ff00" stroke="#000" stroke-width="0.95"/>
<ellipse cx="208.4" cy="838.8" rx="4.45" ry="4.3" fill="#00ff00" stroke="#000" stroke-width="0.95"/>
<ellipse cx="216.9" cy="837.6" rx="4.45" ry="4.3" fill="#00ff00" stroke="#000" stroke-width="0.95"/>
<ellipse cx="224.5" cy="836.6" rx="4.45" ry="4.3" fill="#00ff00" stroke="#000" stroke-width="0.95"/>
<ellipse cx="217.9" cy="847.8" rx="4.45" ry="4.3" fill="#00ff00" stroke="#000" stroke-width="0.95"/>
<ellipse cx="222.3" cy="854.1" rx="4.45" ry="4.3" fill="#00ff00" stroke="#000" stroke-width="0.95"/>
<ellipse cx="227.4" cy="856.0" rx="4.45" ry="4.3" fill="#00ff00" stroke="#000" stroke-width="0.95"/>
<ellipse cx="219.8" cy="856.3" rx="4.45" ry="4.3" fill="#00ff00" stroke="#000" stroke-width="0.95"/>
<ellipse cx="236.4" cy="856.6" rx="4.45" ry="4.3" fill="#00ff00" stroke="#000" stroke-width="0.95"/>
<ellipse cx="227.4" cy="867.7" rx="4.45" ry="4.3" fill="#00ff00" stroke="#000" stroke-width="0.95"/>
<ellipse cx="237.3" cy="842.4" rx="4.45" ry="4.3" fill="#00ff00" stroke="#000" stroke-width="0.95"/>
<ellipse cx="240.8" cy="841.4" rx="4.45" ry="4.3" fill="#00ff00" stroke="#000" stroke-width="0.95"/>
<ellipse cx="241.2" cy="828.6" rx="4.45" ry="4.3" fill="#00ff00" stroke="#000" stroke-width="0.95"/>
<ellipse cx="202.6" cy="807.8" rx="4.45" ry="4.3" fill="#00ff00" stroke="#000" stroke-width="0.95"/>
<ellipse cx="257.2" cy="840.0" rx="4.45" ry="4.3" fill="#00ff00" stroke="#000" stroke-width="0.95"/>
<ellipse cx="274.1" cy="831.8" rx="4.45" ry="4.3" fill="#00ff00" stroke="#000" stroke-width="0.95"/>
<ellipse cx="282.0" cy="844.3" rx="4.45" ry="4.3" fill="#00ff00" stroke="#000" stroke-width="0.95"/>
<ellipse cx="249.6" cy="850.5" rx="4.45" ry="4.3" fill="#00ff00" stroke="#000" stroke-width="0.95"/>
<ellipse cx="253.7" cy="856.0" rx="4.45" ry="4.3" fill="#00ff00" stroke="#000" stroke-width="0.95"/>
<ellipse cx="268.9" cy="866.2" rx="4.45" ry="4.3" fill="#00ff00" stroke="#000" stroke-width="0.95"/>
<ellipse cx="274.4" cy="869.7" rx="4.45" ry="4.3" fill="#00ff00" stroke="#000" stroke-width="0.95"/>
<ellipse cx="152.1" cy="724.0" rx="4.45" ry="4.3" fill="#ff0000" stroke="#000" stroke-width="0.95"/>
<ellipse cx="161.9" cy="735.3" rx="4.45" ry="4.3" fill="#ff0000" stroke="#000" stroke-width="0.95"/>
<ellipse cx="208.3" cy="706.4" rx="4.45" ry="4.3" fill="#ff0000" stroke="#000" stroke-width="0.95"/>
<ellipse cx="247.8" cy="720.4" rx="4.45" ry="4.3" fill="#ff0000" stroke="#000" stroke-width="0.95"/>
<ellipse cx="222.9" cy="725.8" rx="4.45" ry="4.3" fill="#ff0000" stroke="#000" stroke-width="0.95"/>
<ellipse cx="227.0" cy="727.7" rx="4.45" ry="4.3" fill="#ff0000" stroke="#000" stroke-width="0.95"/>
<ellipse cx="182.1" cy="729.1" rx="4.45" ry="4.3" fill="#ff0000" stroke="#000" stroke-width="0.95"/>
<ellipse cx="186.4" cy="737.9" rx="4.45" ry="4.3" fill="#ff0000" stroke="#000" stroke-width="0.95"/>
<ellipse cx="206.6" cy="744.7" rx="4.45" ry="4.3" fill="#ff0000" stroke="#000" stroke-width="0.95"/>
<ellipse cx="178.4" cy="749.1" rx="4.45" ry="4.3" fill="#ff0000" stroke="#000" stroke-width="0.95"/>
<ellipse cx="225.9" cy="751.3" rx="4.45" ry="4.3" fill="#ff0000" stroke="#000" stroke-width="0.95"/>
<ellipse cx="192.3" cy="758.3" rx="4.45" ry="4.3" fill="#ff0000" stroke="#000" stroke-width="0.95"/>
<ellipse cx="208.0" cy="759.3" rx="4.45" ry="4.3" fill="#ff0000" stroke="#000" stroke-width="0.95"/>
<ellipse cx="199.3" cy="776.1" rx="4.45" ry="4.3" fill="#ff0000" stroke="#000" stroke-width="0.95"/>
<ellipse cx="237.1" cy="773.2" rx="4.45" ry="4.3" fill="#ff0000" stroke="#000" stroke-width="0.95"/>
<ellipse cx="247.0" cy="774.4" rx="4.45" ry="4.3" fill="#ff0000" stroke="#000" stroke-width="0.95"/>
<ellipse cx="255.0" cy="781.2" rx="4.45" ry="4.3" fill="#ff0000" stroke="#000" stroke-width="0.95"/>
<ellipse cx="258.8" cy="788.5" rx="4.45" ry="4.3" fill="#ff0000" stroke="#000" stroke-width="0.95"/>
<ellipse cx="209.5" cy="789.6" rx="4.45" ry="4.3" fill="#ff0000" stroke="#000" stroke-width="0.95"/>
<ellipse cx="250.7" cy="797.3" rx="4.45" ry="4.3" fill="#ff0000" stroke="#000" stroke-width="0.95"/>
<ellipse cx="247.5" cy="801.0" rx="4.45" ry="4.3" fill="#ff0000" stroke="#000" stroke-width="0.95"/>
<ellipse cx="239.0" cy="801.7" rx="4.45" ry="4.3" fill="#ff0000" stroke="#000" stroke-width="0.95"/>
<ellipse cx="278.7" cy="787.5" rx="4.45" ry="4.3" fill="#ff0000" stroke="#000" stroke-width="0.95"/>
<ellipse cx="287.4" cy="782.7" rx="4.45" ry="4.3" fill="#ff0000" stroke="#000" stroke-width="0.95"/>
<ellipse cx="280.2" cy="803.6" rx="4.45" ry="4.3" fill="#ff0000" stroke="#000" stroke-width="0.95"/>
<ellipse cx="311.0" cy="802.4" rx="4.45" ry="4.3" fill="#ff0000" stroke="#000" stroke-width="0.95"/>
<ellipse cx="201.8" cy="804.5" rx="4.45" ry="4.3" fill="#ff0000" stroke="#000" stroke-width="0.95"/>
<ellipse cx="193.1" cy="823.5" rx="4.45" ry="4.3" fill="#ff0000" stroke="#000" stroke-width="0.95"/>
<ellipse cx="221.8" cy="840.5" rx="4.45" ry="4.3" fill="#ff0000" stroke="#000" stroke-width="0.95"/>
<ellipse cx="205.8" cy="865.8" rx="4.45" ry="4.3" fill="#ff0000" stroke="#000" stroke-width="0.95"/>
<ellipse cx="228.8" cy="876.5" rx="4.45" ry="4.3" fill="#ff0000" stroke="#000" stroke-width="0.95"/>
<ellipse cx="230.3" cy="812.5" rx="4.45" ry="4.3" fill="#ff0000" stroke="#000" stroke-width="0.95"/>
<ellipse cx="238.8" cy="812.2" rx="4.45" ry="4.3" fill="#ff0000" stroke="#000" stroke-width="0.95"/>
<ellipse cx="230.0" cy="822.7" rx="4.45" ry="4.3" fill="#ff0000" stroke="#000" stroke-width="0.95"/>
<ellipse cx="246.4" cy="822.7" rx="4.45" ry="4.3" fill="#ff0000" stroke="#000" stroke-width="0.95"/>
<ellipse cx="245.6" cy="852.4" rx="4.45" ry="4.3" fill="#ff0000" stroke="#000" stroke-width="0.95"/>
<ellipse cx="252.2" cy="810.3" rx="4.45" ry="4.3" fill="#ff0000" stroke="#000" stroke-width="0.95"/>
<ellipse cx="297.8" cy="808.4" rx="4.45" ry="4.3" fill="#ff0000" stroke="#000" stroke-width="0.95"/>
<ellipse cx="294.9" cy="815.1" rx="4.45" ry="4.3" fill="#ff0000" stroke="#000" stroke-width="0.95"/>
<ellipse cx="301.0" cy="818.6" rx="4.45" ry="4.3" fill="#ff0000" stroke="#000" stroke-width="0.95"/>
<ellipse cx="269.7" cy="816.2" rx="4.45" ry="4.3" fill="#ff0000" stroke="#000" stroke-width="0.95"/>
<ellipse cx="275.6" cy="817.2" rx="4.45" ry="4.3" fill="#ff0000" stroke="#000" stroke-width="0.95"/>
<ellipse cx="281.4" cy="825.7" rx="4.45" ry="4.3" fill="#ff0000" stroke="#000" stroke-width="0.95"/>
<ellipse cx="291.2" cy="825.4" rx="4.45" ry="4.3" fill="#ff0000" stroke="#000" stroke-width="0.95"/>
<ellipse cx="262.4" cy="837.6" rx="4.45" ry="4.3" fill="#ff0000" stroke="#000" stroke-width="0.95"/>
<ellipse cx="304.8" cy="847.1" rx="4.45" ry="4.3" fill="#ff0000" stroke="#000" stroke-width="0.95"/>
<text x="66.30" y="925.40" font-size="16.0" text-anchor="middle" textLength="22.0" lengthAdjust="spacingAndGlyphs" fill="#333333" >0.1</text>
<text x="176.40" y="925.40" font-size="16.0" text-anchor="middle" textLength="30.5" lengthAdjust="spacingAndGlyphs" fill="#333333" >0.15</text>
<text x="286.60" y="925.40" font-size="16.0" text-anchor="middle" textLength="22.0" lengthAdjust="spacingAndGlyphs" fill="#333333" >0.2</text>
<text x="57.00" y="880.70" font-size="16.0" text-anchor="end" textLength="26.2" lengthAdjust="spacingAndGlyphs" fill="#333333" >140</text>
<text x="57.00" y="828.60" font-size="16.0" text-anchor="end" textLength="26.2" lengthAdjust="spacingAndGlyphs" fill="#333333" >150</text>
<text x="57.00" y="776.50" font-size="16.0" text-anchor="end" textLength="26.2" lengthAdjust="spacingAndGlyphs" fill="#333333" >160</text>
<text x="57.00" y="724.30" font-size="16.0" text-anchor="end" textLength="26.2" lengthAdjust="spacingAndGlyphs" fill="#333333" >170</text>
<text x="136.20" y="949.50" font-size="16.5" text-anchor="start" textLength="124.5" lengthAdjust="spacingAndGlyphs" fill="#333333" >f<tspan font-size="12" dy="7.0">2</tspan><tspan dy="-7.0">: Conflict Risk</tspan></text>
<text x="0" y="0" font-size="16.5" text-anchor="start" textLength="200.0" lengthAdjust="spacingAndGlyphs" transform="translate(13.60 896.00) scale(1.1 1) rotate(-90)" fill="#333333" >f<tspan font-size="12.8" dy="8.0">3</tspan><tspan dy="-8.0">: Operating Cost (kWh)</tspan></text>
<text x="119.50" y="672.20" font-size="16.2" text-anchor="start" font-weight="bold" textLength="158.0" lengthAdjust="spacingAndGlyphs" fill="#000" >(d) f<tspan font-size="12.8" dy="8.0">2</tspan><tspan dy="-8.0">-f</tspan><tspan font-size="12.8" dy="8.0">3</tspan><tspan dy="-8.0"> Projection</tspan></text>
<circle cx="77.0" cy="703.6" r="3.5" fill="#0000ff" stroke="#000" stroke-width="0.9"/>
<text x="97.40" y="708.60" font-size="12.6" text-anchor="start" textLength="37.5" lengthAdjust="spacingAndGlyphs" fill="#333333" ><tspan font-family="Liberation Serif" font-style="italic">&#x3f5;</tspan> = 0.1</text>
<circle cx="77.0" cy="720.4" r="3.5" fill="#00ff00" stroke="#000" stroke-width="0.9"/>
<text x="97.40" y="725.40" font-size="12.6" text-anchor="start" textLength="37.5" lengthAdjust="spacingAndGlyphs" fill="#333333" ><tspan font-family="Liberation Serif" font-style="italic">&#x3f5;</tspan> = 0.5</text>
<circle cx="77.0" cy="737.2" r="3.5" fill="#ff0000" stroke="#000" stroke-width="0.9"/>
<text x="97.40" y="742.20" font-size="12.6" text-anchor="start" textLength="37.5" lengthAdjust="spacingAndGlyphs" fill="#333333" ><tspan font-family="Liberation Serif" font-style="italic">&#x3f5;</tspan> = 1.0</text>
<rect x="400.50" y="678.50" width="275.00" height="227.00" fill="none" stroke="#808080" stroke-width="1"/>
<line x1="400.50" y1="906.00" x2="400.50" y2="908.50" stroke="#808080" stroke-width="1" />
<line x1="400.50" y1="678.00" x2="400.50" y2="675.50" stroke="#808080" stroke-width="1" />
<line x1="463.50" y1="906.00" x2="463.50" y2="908.50" stroke="#808080" stroke-width="1" />
<line x1="463.50" y1="678.00" x2="463.50" y2="675.50" stroke="#808080" stroke-width="1" />
<line x1="525.50" y1="906.00" x2="525.50" y2="908.50" stroke="#808080" stroke-width="1" />
<line x1="525.50" y1="678.00" x2="525.50" y2="675.50" stroke="#808080" stroke-width="1" />
<line x1="588.50" y1="906.00" x2="588.50" y2="908.50" stroke="#808080" stroke-width="1" />
<line x1="588.50" y1="678.00" x2="588.50" y2="675.50" stroke="#808080" stroke-width="1" />
<line x1="650.50" y1="906.00" x2="650.50" y2="908.50" stroke="#808080" stroke-width="1" />
<line x1="650.50" y1="678.00" x2="650.50" y2="675.50" stroke="#808080" stroke-width="1" />
<line x1="400.00" y1="876.50" x2="397.50" y2="876.50" stroke="#808080" stroke-width="1" />
<line x1="676.00" y1="876.50" x2="678.50" y2="876.50" stroke="#808080" stroke-width="1" />
<line x1="400.00" y1="820.50" x2="397.50" y2="820.50" stroke="#808080" stroke-width="1" />
<line x1="676.00" y1="820.50" x2="678.50" y2="820.50" stroke="#808080" stroke-width="1" />
<line x1="400.00" y1="763.50" x2="397.50" y2="763.50" stroke="#808080" stroke-width="1" />
<line x1="676.00" y1="763.50" x2="678.50" y2="763.50" stroke="#808080" stroke-width="1" />
<line x1="400.00" y1="707.50" x2="397.50" y2="707.50" stroke="#808080" stroke-width="1" />
<line x1="676.00" y1="707.50" x2="678.50" y2="707.50" stroke="#808080" stroke-width="1" />
<path d="M413.10,712.88 L415.60,714.93 L418.10,716.98 L420.60,719.02 L423.10,721.05 L425.60,723.08 L428.10,725.10 L430.60,727.11 L433.10,729.12 L435.60,731.11 L438.10,733.10 L440.60,735.08 L443.10,737.05 L445.60,739.02 L448.10,740.97 L450.60,742.92 L453.10,744.86 L455.60,746.79 L458.10,748.71 L460.60,750.62 L463.10,752.52 L465.60,754.42 L468.10,756.32 L470.60,758.23 L473.10,760.14 L475.60,762.06 L478.10,763.97 L480.60,765.88 L483.10,767.78 L485.60,769.68 L488.10,771.57 L490.60,773.45 L493.10,775.31 L495.60,777.17 L498.10,779.01 L500.60,780.84 L503.10,782.64 L505.60,784.43 L508.10,786.20 L510.60,787.94 L513.10,789.66 L515.60,791.35 L518.10,793.01 L520.60,794.65 L523.10,796.25 L525.60,797.82 L528.10,799.36 L530.60,800.85 L533.10,802.32 L535.60,803.75 L538.10,805.16 L540.60,806.54 L543.10,807.89 L545.60,809.23 L548.10,810.55 L550.60,811.86 L553.10,813.16 L555.60,814.45 L558.10,815.73 L560.60,817.02 L563.10,818.30 L565.60,819.59 L568.10,820.88 L570.60,822.18 L573.10,823.50 L575.60,824.83 L578.10,826.17 L580.60,827.54 L583.10,828.93 L585.60,830.35 L588.10,831.80 L590.60,833.27 L593.10,834.75 L595.60,836.24 L598.10,837.74 L600.60,839.25 L603.10,840.77 L605.60,842.30 L608.10,843.84 L610.60,845.39 L613.10,846.95 L615.60,848.52 L618.10,850.09 L620.60,851.68 L623.10,853.28 L625.60,854.89 L628.10,856.50 L630.60,858.13 L633.10,859.76 L635.60,861.40 L638.10,863.05 L640.60,864.71 L643.10,866.38 L645.60,868.06 L648.10,869.75 L650.60,871.44" fill="none" stroke="#0000ff" stroke-width="3.6" stroke-linejoin="round"/>
<line x1="588.10" y1="832.40" x2="650.60" y2="872.04" stroke="#ff0000" stroke-width="2" stroke-dasharray="8 7"/>
<ellipse cx="413.10" cy="712.88" rx="6.2" ry="6.0" fill="#ff0000" stroke="#000" stroke-width="1.5"/>
<ellipse cx="463.10" cy="752.52" rx="6.2" ry="6.0" fill="#ff0000" stroke="#000" stroke-width="1.5"/>
<ellipse cx="525.60" cy="797.82" rx="6.2" ry="6.0" fill="#ff0000" stroke="#000" stroke-width="1.5"/>
<ellipse cx="588.10" cy="831.80" rx="6.2" ry="6.0" fill="#ff0000" stroke="#000" stroke-width="1.5"/>
<ellipse cx="650.60" cy="871.44" rx="6.2" ry="6.0" fill="#ff0000" stroke="#000" stroke-width="1.5"/>
<line x1="463.1" y1="905.4" x2="463.1" y2="752.52" stroke="#00ee00" stroke-width="1.8" stroke-dasharray="8 7"/>
<text x="400.60" y="932.30" font-size="16.8" text-anchor="middle" textLength="10.0" lengthAdjust="spacingAndGlyphs" fill="#333333" >0</text>
<text x="463.10" y="932.30" font-size="16.8" text-anchor="middle" textLength="23.7" lengthAdjust="spacingAndGlyphs" fill="#333333" >0.5</text>
<text x="525.70" y="932.30" font-size="16.8" text-anchor="middle" textLength="7.2" lengthAdjust="spacingAndGlyphs" fill="#333333" >1</text>
<text x="588.20" y="932.30" font-size="16.8" text-anchor="middle" textLength="23.7" lengthAdjust="spacingAndGlyphs" fill="#333333" >1.5</text>
<text x="650.60" y="932.30" font-size="16.8" text-anchor="middle" textLength="10.0" lengthAdjust="spacingAndGlyphs" fill="#333333" >2</text>
<text x="391.20" y="883.00" font-size="16.8" text-anchor="end" textLength="23.5" lengthAdjust="spacingAndGlyphs" fill="#333333" >0.6</text>
<text x="391.20" y="826.00" font-size="16.8" text-anchor="end" textLength="23.5" lengthAdjust="spacingAndGlyphs" fill="#333333" >0.7</text>
<text x="391.20" y="769.80" font-size="16.8" text-anchor="end" textLength="23.5" lengthAdjust="spacingAndGlyphs" fill="#333333" >0.8</text>
<text x="391.20" y="713.50" font-size="16.8" text-anchor="end" textLength="23.5" lengthAdjust="spacingAndGlyphs" fill="#333333" >0.9</text>
<text x="446.00" y="957.40" font-size="18.6" text-anchor="start" textLength="184.0" lengthAdjust="spacingAndGlyphs" fill="#333333" >Wasserstein Radius <tspan font-family="Liberation Serif" font-style="italic">&#x3f5;</tspan></text>
<text x="0" y="0" font-size="18.6" text-anchor="start" textLength="108.8" lengthAdjust="spacingAndGlyphs" transform="translate(360.30 846.60) scale(1.12 1) rotate(-90)" fill="#333333" >CVaR@95%</text>
<text x="390.50" y="668.20" font-size="19.6" text-anchor="start" font-weight="bold" textLength="300.0" lengthAdjust="spacingAndGlyphs" fill="#000" >(e) CVaR vs Wasserstein Radius</text>
<text x="456.00" y="739.90" font-size="14.2" text-anchor="start" textLength="109.0" lengthAdjust="spacingAndGlyphs" fill="#111" ><tspan font-family="Liberation Serif" font-style="italic">&#x3f5;</tspan> = 0.5 (Optimal)</text>
<text x="667.00" y="888.60" font-size="14.4" text-anchor="end" textLength="149.0" lengthAdjust="spacingAndGlyphs" fill="#111" >Marginal improvement</text>
</svg></body></html>
